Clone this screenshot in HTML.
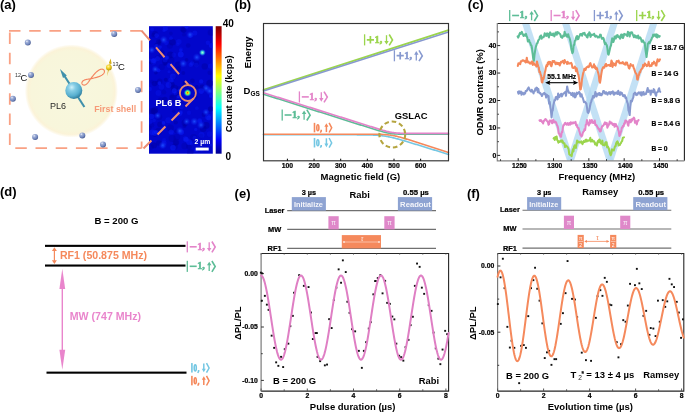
<!DOCTYPE html>
<html><head><meta charset="utf-8"><style>
html,body{margin:0;padding:0;background:#fff;}
svg{display:block;will-change:transform;}
text{font-family:"Liberation Sans",sans-serif;}
</style></head><body>
<svg width="685" height="412" viewBox="0 0 685 412">
<rect width="685" height="412" fill="#fff"/>
<text x="0" y="8.5" font-size="13" font-weight="bold" fill="#000" text-anchor="start" >(a)</text>
<defs><radialGradient id="shell" cx="50%" cy="50%" r="50%"><stop offset="0" stop-color="#f8f7de"/><stop offset="0.86" stop-color="#f8f6db"/><stop offset="0.93" stop-color="#fbf3d8"/><stop offset="0.97" stop-color="#fdf9ec"/><stop offset="1" stop-color="#ffffff"/></radialGradient><radialGradient id="ball" cx="35%" cy="30%" r="70%"><stop offset="0" stop-color="#eef0fa"/><stop offset="0.3" stop-color="#9eaed6"/><stop offset="0.75" stop-color="#7086bd"/><stop offset="1" stop-color="#4d5f92"/></radialGradient><radialGradient id="big" cx="38%" cy="32%" r="70%"><stop offset="0" stop-color="#d0f1fa"/><stop offset="0.3" stop-color="#86cde5"/><stop offset="0.72" stop-color="#58afcf"/><stop offset="1" stop-color="#317d9d"/></radialGradient><radialGradient id="yb" cx="40%" cy="35%" r="65%"><stop offset="0" stop-color="#fff6a0"/><stop offset="0.5" stop-color="#f2d024"/><stop offset="1" stop-color="#b89a10"/></radialGradient><linearGradient id="jet" x1="0" y1="1" x2="0" y2="0"><stop offset="0" stop-color="#00008f"/><stop offset="0.11" stop-color="#0000ff"/><stop offset="0.36" stop-color="#00ffff"/><stop offset="0.61" stop-color="#ffff00"/><stop offset="0.86" stop-color="#ff0000"/><stop offset="1" stop-color="#800000"/></linearGradient><radialGradient id="spot" cx="50%" cy="50%" r="50%"><stop offset="0" stop-color="#1c50ff" stop-opacity="0.95"/><stop offset="1" stop-color="#0820f0" stop-opacity="0"/></radialGradient><radialGradient id="cspot" cx="50%" cy="50%" r="50%"><stop offset="0" stop-color="#b0ffd0"/><stop offset="0.4" stop-color="#40e0e0" stop-opacity="0.9"/><stop offset="1" stop-color="#1040f0" stop-opacity="0"/></radialGradient><radialGradient id="hspot" cx="50%" cy="50%" r="50%"><stop offset="0" stop-color="#e03000"/><stop offset="0.25" stop-color="#ffe000"/><stop offset="0.55" stop-color="#30e0a0"/><stop offset="1" stop-color="#1040f0" stop-opacity="0"/></radialGradient></defs>
<circle cx="71.4" cy="91" r="46.6" fill="url(#shell)"/>
<line x1="9" y1="30.9" x2="142.2" y2="30.9" stroke="#f9a184" stroke-width="1.8" stroke-dasharray="11.5 8.7"/>
<line x1="9.8" y1="32.6" x2="9.8" y2="145.2" stroke="#f9a184" stroke-width="1.8" stroke-dasharray="11.5 8.7"/>
<line x1="15.3" y1="148.1" x2="141.6" y2="148.1" stroke="#f9a184" stroke-width="1.8" stroke-dasharray="11.5 8.7"/>
<line x1="141.6" y1="40.4" x2="141.6" y2="148.2" stroke="#f9a184" stroke-width="1.8" stroke-dasharray="11.5 8.7"/>
<circle cx="27.8" cy="42.6" r="3.0" fill="url(#ball)"/>
<circle cx="114.2" cy="33.9" r="3.0" fill="url(#ball)"/>
<circle cx="31" cy="75" r="3.0" fill="url(#ball)"/>
<circle cx="12.9" cy="98.8" r="3.0" fill="url(#ball)"/>
<circle cx="138" cy="90" r="3.0" fill="url(#ball)"/>
<circle cx="35.1" cy="137" r="3.0" fill="url(#ball)"/>
<circle cx="82.3" cy="135.4" r="3.0" fill="url(#ball)"/>
<circle cx="103" cy="144.4" r="3.0" fill="url(#ball)"/>
<text x="15.1" y="77.4" font-size="5.4" font-weight="normal" fill="#333" text-anchor="start" >12</text>
<text x="20.6" y="81.4" font-size="9.4" font-weight="normal" fill="#111" text-anchor="start" >C</text>
<text x="112.5" y="66.4" font-size="5.4" font-weight="normal" fill="#333" text-anchor="start" >13</text>
<text x="118.1" y="70.4" font-size="9.5" font-weight="normal" fill="#111" text-anchor="start" >C</text>
<text x="49.9" y="108.7" font-size="9" font-weight="normal" fill="#2a2a2a" text-anchor="start" >PL6</text>
<text x="94.2" y="111.9" font-size="8.9" font-weight="bold" fill="#f69a78" text-anchor="start" >First shell</text>
<path d="M90.60,78.80 L91.47,78.61 L92.34,78.42 L93.19,78.22 L94.04,78.02 L94.87,77.81 L95.69,77.60 L96.48,77.38 L97.25,77.15 L97.99,76.90 L98.70,76.65 L99.38,76.39 L100.02,76.11 L100.62,75.82 L101.19,75.52 L101.71,75.21 L102.19,74.89 L102.62,74.56 L103.01,74.22 L103.35,73.87 L103.65,73.52 L103.90,73.17 L104.10,72.82 L104.26,72.46 L104.37,72.11 L104.43,71.77 L104.45,71.44 L104.43,71.12 L104.37,70.81 L104.26,70.52 L104.12,70.26 L103.94,70.01 L103.72,69.79 L103.48,69.60 L103.19,69.45 L102.89,69.32 L102.55,69.23 L102.19,69.18 L101.80,69.17 L101.39,69.20 L100.97,69.28 L100.52,69.40 L100.07,69.56 L99.59,69.76 L99.11,70.01 L98.61,70.31 L98.11,70.65 L97.59,71.03 L97.07,71.45 L96.55,71.91 L96.02,72.41 L95.49,72.94 L94.95,73.50 L94.41,74.10 L93.87,74.72 L93.32,75.36 L92.78,76.03 L92.24,76.71 L91.69,77.40 L91.15,78.10 L90.60,78.80 L90.29,79.28 L89.98,79.76 L89.67,80.23 L89.36,80.69 L89.05,81.14 L88.74,81.58 L88.42,82.00 L88.11,82.39 L87.80,82.77 L87.48,83.13 L87.17,83.45 L86.85,83.76 L86.54,84.03 L86.22,84.27 L85.91,84.48 L85.60,84.66 L85.30,84.81 L85.00,84.93 L84.71,85.01 L84.42,85.06 L84.14,85.08 L83.87,85.07 L83.61,85.04 L83.37,84.97 L83.13,84.88 L82.92,84.76 L82.72,84.62 L82.54,84.46 L82.37,84.28 L82.23,84.09 L82.12,83.88 L82.02,83.65 L81.96,83.42 L81.92,83.18 L81.91,82.93 L81.92,82.69 L81.97,82.44 L82.05,82.19 L82.15,81.94 L82.29,81.70 L82.46,81.46 L82.66,81.23 L82.90,81.01 L83.16,80.80 L83.46,80.59 L83.78,80.40 L84.13,80.23 L84.51,80.06 L84.92,79.90 L85.35,79.76 L85.81,79.63 L86.28,79.51 L86.78,79.39 L87.29,79.29 L87.82,79.20 L88.36,79.11 L88.91,79.03 L89.47,78.95 L90.03,78.87 L90.60,78.80" fill="none" stroke="#f4845f" stroke-width="1.15" stroke-linejoin="round" stroke-linecap="round" />
<path d="M107.1,76.2 L108.3,67.5 L109.8,63.5 L108.8,63.3 L110.6,58.6 L111.7,63.8 L110.6,63.7 L109.6,67.5 Z" fill="#d4ae1a"/>
<circle cx="108.9" cy="67.4" r="2.9" fill="url(#yb)"/>
<line x1="84.4" y1="107" x2="64.5" y2="76" stroke="#3f90ab" stroke-width="2.1"/>
<path d="M60,69.1 L66.8,75.4 L63.0,77.9 Z" fill="#3f90ab"/>
<circle cx="73.8" cy="90.4" r="8.5" fill="url(#big)"/>
<rect x="149" y="26.2" width="63.8" height="127.5" fill="#0206cc"/>
<clipPath id="imgclip"><rect x="149" y="26.2" width="63.8" height="127.5"/></clipPath>
<g clip-path="url(#imgclip)">
<circle cx="169.9" cy="45.8" r="3.0" fill="#0000a0" opacity="0.27"/>
<circle cx="183.3" cy="73.0" r="1.9" fill="#0000a0" opacity="0.40"/>
<circle cx="151.9" cy="81.6" r="1.9" fill="#0000a0" opacity="0.28"/>
<circle cx="176.2" cy="131.3" r="2.0" fill="#0000a0" opacity="0.32"/>
<circle cx="189.0" cy="146.6" r="2.8" fill="#0000a0" opacity="0.37"/>
<circle cx="211.0" cy="32.6" r="3.3" fill="#0000a0" opacity="0.34"/>
<circle cx="158.6" cy="41.6" r="2.4" fill="#0000a0" opacity="0.49"/>
<circle cx="160.9" cy="100.3" r="3.0" fill="#0000a0" opacity="0.36"/>
<circle cx="184.0" cy="34.6" r="1.9" fill="#0000a0" opacity="0.31"/>
<circle cx="192.4" cy="80.8" r="2.4" fill="#0000a0" opacity="0.43"/>
<circle cx="178.1" cy="64.6" r="3.2" fill="#0000a0" opacity="0.46"/>
<circle cx="164.9" cy="99.4" r="2.7" fill="#0000a0" opacity="0.51"/>
<circle cx="195.5" cy="63.1" r="3.6" fill="#0000a0" opacity="0.29"/>
<circle cx="175.8" cy="122.5" r="2.1" fill="#0000a0" opacity="0.40"/>
<circle cx="152.0" cy="111.2" r="3.2" fill="#0000a0" opacity="0.42"/>
<circle cx="204.7" cy="66.4" r="3.1" fill="#0000a0" opacity="0.43"/>
<circle cx="186.0" cy="84.4" r="3.3" fill="#0000a0" opacity="0.53"/>
<circle cx="179.4" cy="110.7" r="1.9" fill="#0000a0" opacity="0.46"/>
<circle cx="190.3" cy="152.3" r="3.3" fill="#0000a0" opacity="0.34"/>
<circle cx="173.8" cy="111.3" r="1.8" fill="#0000a0" opacity="0.39"/>
<circle cx="160.1" cy="41.5" r="1.9" fill="#0000a0" opacity="0.48"/>
<circle cx="157.6" cy="58.0" r="2.5" fill="#0000a0" opacity="0.51"/>
<circle cx="154.6" cy="83.5" r="2.8" fill="#0000a0" opacity="0.52"/>
<circle cx="201.1" cy="136.0" r="2.3" fill="#0000a0" opacity="0.37"/>
<circle cx="172.1" cy="138.6" r="3.5" fill="#0000a0" opacity="0.30"/>
<circle cx="160.6" cy="56.0" r="2.2" fill="#0000a0" opacity="0.40"/>
<circle cx="186.6" cy="59.9" r="1.8" fill="#0000a0" opacity="0.38"/>
<circle cx="172.8" cy="98.3" r="3.5" fill="#0000a0" opacity="0.46"/>
<circle cx="182.0" cy="104.8" r="3.0" fill="#0000a0" opacity="0.27"/>
<circle cx="206.2" cy="125.4" r="3.4" fill="#0000a0" opacity="0.49"/>
<circle cx="174.2" cy="77.2" r="2.0" fill="#0000a0" opacity="0.44"/>
<circle cx="153.4" cy="35.2" r="2.2" fill="#0000a0" opacity="0.30"/>
<circle cx="170.9" cy="33.4" r="1.8" fill="#0000a0" opacity="0.30"/>
<circle cx="155.9" cy="72.7" r="1.8" fill="#0000a0" opacity="0.51"/>
<circle cx="188.2" cy="45.5" r="2.3" fill="#0000a0" opacity="0.35"/>
<circle cx="172.4" cy="42.2" r="3.3" fill="#0000a0" opacity="0.55"/>
<circle cx="178.9" cy="87.9" r="2.0" fill="#0000a0" opacity="0.28"/>
<circle cx="171.1" cy="60.2" r="3.3" fill="#0000a0" opacity="0.30"/>
<circle cx="151.0" cy="147.0" r="2.8" fill="#0000a0" opacity="0.29"/>
<circle cx="183.7" cy="30.1" r="2.8" fill="#0000a0" opacity="0.54"/>
<circle cx="203.9" cy="114.8" r="2.3" fill="#0000a0" opacity="0.36"/>
<circle cx="160.0" cy="124.4" r="2.8" fill="#0000a0" opacity="0.48"/>
<circle cx="170.3" cy="54.9" r="3.3" fill="#0000a0" opacity="0.55"/>
<circle cx="203.2" cy="128.7" r="3.3" fill="#0000a0" opacity="0.47"/>
<circle cx="163.8" cy="92.2" r="2.4" fill="#0000a0" opacity="0.26"/>
<circle cx="151.3" cy="62.0" r="2.3" fill="#0000a0" opacity="0.46"/>
<circle cx="209.8" cy="83.3" r="3.5" fill="#0000a0" opacity="0.55"/>
<circle cx="209.7" cy="72.8" r="2.2" fill="#0000a0" opacity="0.32"/>
<circle cx="161.9" cy="52.6" r="2.9" fill="#0000a0" opacity="0.52"/>
<circle cx="202.4" cy="87.4" r="3.0" fill="#0000a0" opacity="0.49"/>
<circle cx="154.8" cy="110.3" r="3.4" fill="#0000a0" opacity="0.48"/>
<circle cx="196.8" cy="87.2" r="2.1" fill="#0000a0" opacity="0.49"/>
<circle cx="170.4" cy="128.0" r="3.5" fill="#0000a0" opacity="0.37"/>
<circle cx="174.8" cy="146.5" r="3.1" fill="#0000a0" opacity="0.30"/>
<circle cx="157.5" cy="45.8" r="3.4" fill="#0000a0" opacity="0.49"/>
<circle cx="158.7" cy="131.3" r="3.6" fill="#0000a0" opacity="0.45"/>
<circle cx="171.6" cy="96.1" r="2.0" fill="#0000a0" opacity="0.25"/>
<circle cx="210.7" cy="108.9" r="2.7" fill="#0000a0" opacity="0.53"/>
<circle cx="176.8" cy="137.0" r="3.3" fill="#0000a0" opacity="0.31"/>
<circle cx="165.4" cy="63.8" r="2.2" fill="#0000a0" opacity="0.43"/>
<circle cx="165.8" cy="79.7" r="2.0" fill="#0000a0" opacity="0.52"/>
<circle cx="171.8" cy="84.7" r="2.9" fill="#0000a0" opacity="0.52"/>
<circle cx="176.0" cy="142.8" r="2.7" fill="#0000a0" opacity="0.41"/>
<circle cx="182.5" cy="29.1" r="2.6" fill="#0000a0" opacity="0.30"/>
<circle cx="149.7" cy="127.8" r="2.1" fill="#0000a0" opacity="0.39"/>
<circle cx="195.2" cy="97.1" r="2.4" fill="#0000a0" opacity="0.41"/>
<circle cx="184.5" cy="125.9" r="2.0" fill="#0000a0" opacity="0.42"/>
<circle cx="165.2" cy="61.7" r="3.2" fill="#0000a0" opacity="0.40"/>
<circle cx="184.9" cy="122.8" r="3.4" fill="#0000a0" opacity="0.38"/>
<circle cx="188.1" cy="90.7" r="2.7" fill="#0000a0" opacity="0.46"/>
<circle cx="178.0" cy="94.2" r="2.7" fill="#0000a0" opacity="0.53"/>
<circle cx="193.6" cy="137.6" r="3.5" fill="#0000a0" opacity="0.33"/>
<circle cx="184.7" cy="146.0" r="3.3" fill="#0000a0" opacity="0.29"/>
<circle cx="157.2" cy="82.6" r="1.9" fill="#0000a0" opacity="0.32"/>
<circle cx="154.1" cy="111.4" r="3.2" fill="#0000a0" opacity="0.52"/>
<circle cx="159.2" cy="117.3" r="3.0" fill="#0000a0" opacity="0.29"/>
<circle cx="205.1" cy="149.1" r="2.2" fill="#0000a0" opacity="0.54"/>
<circle cx="174.6" cy="88.3" r="3.6" fill="#0000a0" opacity="0.50"/>
<circle cx="159.7" cy="81.3" r="2.7" fill="#0000a0" opacity="0.35"/>
<circle cx="161.8" cy="67.0" r="3.1" fill="#0000a0" opacity="0.26"/>
<circle cx="184.4" cy="82.4" r="1.8" fill="#0000a0" opacity="0.35"/>
<circle cx="188.8" cy="91.5" r="1.9" fill="#0000a0" opacity="0.55"/>
<circle cx="199.2" cy="149.6" r="2.0" fill="#0000a0" opacity="0.33"/>
<circle cx="152.0" cy="125.2" r="2.3" fill="#0000a0" opacity="0.29"/>
<circle cx="176.1" cy="142.0" r="3.3" fill="#0000a0" opacity="0.33"/>
<circle cx="158.9" cy="143.0" r="2.8" fill="#0000a0" opacity="0.46"/>
<circle cx="155.1" cy="34.0" r="3.0" fill="#0000a0" opacity="0.38"/>
<circle cx="154.1" cy="145.4" r="2.9" fill="#0000a0" opacity="0.49"/>
<circle cx="154.8" cy="135.0" r="1.9" fill="#0000a0" opacity="0.51"/>
<circle cx="178.1" cy="69.6" r="2.8" fill="#0000a0" opacity="0.53"/>
<circle cx="166.4" cy="43.0" r="2.3" fill="#0a1cf6" opacity="0.33"/>
<circle cx="156.4" cy="47.1" r="1.6" fill="#0a1cf6" opacity="0.32"/>
<circle cx="169.2" cy="65.3" r="2.6" fill="#0a1cf6" opacity="0.35"/>
<circle cx="181.0" cy="49.2" r="2.0" fill="#0a1cf6" opacity="0.26"/>
<circle cx="165.3" cy="28.6" r="2.6" fill="#0a1cf6" opacity="0.44"/>
<circle cx="161.4" cy="86.8" r="2.9" fill="#0a1cf6" opacity="0.29"/>
<circle cx="201.1" cy="81.4" r="2.2" fill="#0a1cf6" opacity="0.54"/>
<circle cx="174.3" cy="90.8" r="2.5" fill="#0a1cf6" opacity="0.59"/>
<circle cx="171.1" cy="132.0" r="2.6" fill="#0a1cf6" opacity="0.47"/>
<circle cx="175.0" cy="70.7" r="1.6" fill="#0a1cf6" opacity="0.30"/>
<circle cx="154.0" cy="120.4" r="1.9" fill="#0a1cf6" opacity="0.31"/>
<circle cx="154.8" cy="133.1" r="2.8" fill="#0a1cf6" opacity="0.48"/>
<circle cx="167.3" cy="57.3" r="1.9" fill="#0a1cf6" opacity="0.41"/>
<circle cx="159.4" cy="83.1" r="1.9" fill="#0a1cf6" opacity="0.59"/>
<circle cx="210.8" cy="95.9" r="1.9" fill="#0a1cf6" opacity="0.59"/>
<circle cx="169.0" cy="71.8" r="1.5" fill="#0a1cf6" opacity="0.38"/>
<circle cx="179.4" cy="90.3" r="1.8" fill="#0a1cf6" opacity="0.43"/>
<circle cx="149.8" cy="60.1" r="1.6" fill="#0a1cf6" opacity="0.39"/>
<circle cx="152.1" cy="29.5" r="2.0" fill="#0a1cf6" opacity="0.33"/>
<circle cx="186.4" cy="93.6" r="2.6" fill="#0a1cf6" opacity="0.48"/>
<circle cx="194.6" cy="137.9" r="2.1" fill="#0a1cf6" opacity="0.36"/>
<circle cx="211.5" cy="45.6" r="2.6" fill="#0a1cf6" opacity="0.48"/>
<circle cx="152.3" cy="132.4" r="2.8" fill="#0a1cf6" opacity="0.47"/>
<circle cx="195.7" cy="129.4" r="1.7" fill="#0a1cf6" opacity="0.43"/>
<circle cx="181.3" cy="132.3" r="2.7" fill="#0a1cf6" opacity="0.54"/>
<circle cx="186.3" cy="139.6" r="2.5" fill="#0a1cf6" opacity="0.49"/>
<circle cx="164.0" cy="30.6" r="1.7" fill="#0a1cf6" opacity="0.38"/>
<circle cx="156.1" cy="132.4" r="2.3" fill="#0a1cf6" opacity="0.47"/>
<circle cx="189.0" cy="112.8" r="2.2" fill="#0a1cf6" opacity="0.25"/>
<circle cx="199.8" cy="121.4" r="2.3" fill="#0a1cf6" opacity="0.44"/>
<circle cx="191.0" cy="35.1" r="2.6" fill="#0a1cf6" opacity="0.34"/>
<circle cx="154.2" cy="60.3" r="2.6" fill="#0a1cf6" opacity="0.32"/>
<circle cx="196.1" cy="150.1" r="2.2" fill="#0a1cf6" opacity="0.38"/>
<circle cx="179.7" cy="113.2" r="2.7" fill="#0a1cf6" opacity="0.47"/>
<circle cx="190.0" cy="36.5" r="1.7" fill="#0a1cf6" opacity="0.34"/>
<circle cx="196.3" cy="65.2" r="2.4" fill="#0a1cf6" opacity="0.25"/>
<circle cx="153.3" cy="60.7" r="2.5" fill="#0a1cf6" opacity="0.49"/>
<circle cx="192.1" cy="63.5" r="2.3" fill="#0a1cf6" opacity="0.41"/>
<circle cx="178.9" cy="41.7" r="2.8" fill="#0a1cf6" opacity="0.32"/>
<circle cx="211.1" cy="145.1" r="1.5" fill="#0a1cf6" opacity="0.41"/>
<circle cx="201.2" cy="149.2" r="2.2" fill="#0a1cf6" opacity="0.34"/>
<circle cx="162.7" cy="146.3" r="1.8" fill="#0a1cf6" opacity="0.45"/>
<circle cx="158.4" cy="93.0" r="2.9" fill="#0a1cf6" opacity="0.30"/>
<circle cx="201.2" cy="91.1" r="2.8" fill="#0a1cf6" opacity="0.50"/>
<circle cx="164.1" cy="140.3" r="2.2" fill="#0a1cf6" opacity="0.26"/>
<circle cx="149.7" cy="88.9" r="2.2" fill="#0a1cf6" opacity="0.36"/>
<circle cx="158.4" cy="70.2" r="2.0" fill="#0a1cf6" opacity="0.54"/>
<circle cx="149.6" cy="121.7" r="2.8" fill="#0a1cf6" opacity="0.29"/>
<circle cx="207.9" cy="116.9" r="2.9" fill="#0a1cf6" opacity="0.35"/>
<circle cx="172.9" cy="76.4" r="3.0" fill="#0a1cf6" opacity="0.46"/>
<circle cx="172.2" cy="80.8" r="1.9" fill="#0a1cf6" opacity="0.27"/>
<circle cx="155.9" cy="132.3" r="1.9" fill="#0a1cf6" opacity="0.58"/>
<circle cx="165.2" cy="60.3" r="2.3" fill="#0a1cf6" opacity="0.32"/>
<circle cx="173.0" cy="147.7" r="2.8" fill="#0a1cf6" opacity="0.53"/>
<circle cx="189.2" cy="142.2" r="2.9" fill="#0a1cf6" opacity="0.44"/>
<circle cx="194.8" cy="33.0" r="2.6" fill="#0a1cf6" opacity="0.41"/>
<circle cx="196.9" cy="108.2" r="1.9" fill="#0a1cf6" opacity="0.27"/>
<circle cx="207.9" cy="42.8" r="2.2" fill="#0a1cf6" opacity="0.37"/>
<circle cx="168.3" cy="120.2" r="3.0" fill="#0a1cf6" opacity="0.34"/>
<circle cx="190.8" cy="64.8" r="2.3" fill="#0a1cf6" opacity="0.39"/>
<circle cx="160.0" cy="47.1" r="1.8" fill="#0a1cf6" opacity="0.57"/>
<circle cx="180.8" cy="54.5" r="2.9" fill="#0a1cf6" opacity="0.60"/>
<circle cx="177.8" cy="44.4" r="1.8" fill="#0a1cf6" opacity="0.28"/>
<circle cx="171.0" cy="38.2" r="1.9" fill="#0a1cf6" opacity="0.34"/>
<circle cx="185.4" cy="138.9" r="2.6" fill="#0a1cf6" opacity="0.39"/>
<circle cx="175.6" cy="93.0" r="2.1" fill="#0a1cf6" opacity="0.37"/>
<circle cx="153.4" cy="61.8" r="3.0" fill="#0a1cf6" opacity="0.29"/>
<circle cx="181.2" cy="106.3" r="2.8" fill="#0a1cf6" opacity="0.33"/>
<circle cx="166.6" cy="58.1" r="2.1" fill="#0a1cf6" opacity="0.41"/>
<circle cx="209.6" cy="134.1" r="2.8" fill="#0a1cf6" opacity="0.26"/>
<circle cx="151.5" cy="116.5" r="2.8" fill="#0a1cf6" opacity="0.42"/>
<circle cx="186.5" cy="26.7" r="2.1" fill="#0a1cf6" opacity="0.57"/>
<circle cx="201.5" cy="134.9" r="3.0" fill="#0a1cf6" opacity="0.34"/>
<circle cx="156.4" cy="46.2" r="2.3" fill="#0a1cf6" opacity="0.49"/>
<circle cx="208.8" cy="118.0" r="2.5" fill="#0a1cf6" opacity="0.52"/>
<circle cx="178.3" cy="96.5" r="1.6" fill="#0a1cf6" opacity="0.52"/>
<circle cx="164.2" cy="143.1" r="2.5" fill="#0a1cf6" opacity="0.36"/>
<circle cx="157.6" cy="58.6" r="2.5" fill="#0a1cf6" opacity="0.49"/>
<circle cx="156.6" cy="35.6" r="2.3" fill="#0a1cf6" opacity="0.45"/>
<circle cx="173.9" cy="55.0" r="2.4" fill="#0a1cf6" opacity="0.25"/>
<circle cx="168.5" cy="85.0" r="2.9" fill="#0a1cf6" opacity="0.48"/>
<circle cx="205.2" cy="86.8" r="1.9" fill="#0a1cf6" opacity="0.34"/>
<circle cx="210.0" cy="115.8" r="2.0" fill="#0a1cf6" opacity="0.26"/>
<circle cx="180.9" cy="112.0" r="2.1" fill="#0a1cf6" opacity="0.34"/>
<circle cx="191.5" cy="143.7" r="1.8" fill="#0a1cf6" opacity="0.26"/>
<circle cx="170.8" cy="79.9" r="2.5" fill="#0a1cf6" opacity="0.32"/>
<circle cx="199.7" cy="120.2" r="2.3" fill="#0a1cf6" opacity="0.32"/>
<circle cx="210.6" cy="66.1" r="2.7" fill="#0a1cf6" opacity="0.33"/>
<circle cx="163.5" cy="122.9" r="1.9" fill="#0a1cf6" opacity="0.58"/>
<circle cx="180.7" cy="50.4" r="1.8" fill="#0a1cf6" opacity="0.40"/>
<circle cx="163.7" cy="39.8" r="4.2" fill="url(#spot)"/>
<circle cx="196.8" cy="57.3" r="4.2" fill="url(#spot)"/>
<circle cx="183.2" cy="63.6" r="4.2" fill="url(#spot)"/>
<circle cx="151.8" cy="50" r="3.7" fill="url(#spot)"/>
<circle cx="155.2" cy="69.2" r="3.7" fill="url(#spot)"/>
<circle cx="190" cy="34.7" r="3.7" fill="url(#spot)"/>
<circle cx="206.2" cy="88.3" r="4.2" fill="url(#spot)"/>
<circle cx="209.6" cy="91" r="4.2" fill="url(#spot)"/>
<circle cx="179.8" cy="130.9" r="4.2" fill="url(#spot)"/>
<circle cx="194.3" cy="121.5" r="4.2" fill="url(#spot)"/>
<circle cx="201" cy="125" r="4.2" fill="url(#spot)"/>
<circle cx="186.6" cy="121.5" r="3.7" fill="url(#spot)"/>
<circle cx="157.7" cy="115.6" r="3.7" fill="url(#spot)"/>
<circle cx="162.8" cy="145.3" r="4.2" fill="url(#spot)"/>
<circle cx="206" cy="112.2" r="3.7" fill="url(#spot)"/>
</g>
<circle cx="202.4" cy="52.6" r="3.6" fill="url(#cspot)"/>
<circle cx="187.6" cy="92.8" r="4.0" fill="url(#hspot)"/>
<line x1="141.5" y1="30.6" x2="188.5" y2="85" stroke="#ec8c73" stroke-width="2" stroke-dasharray="13 9.2"/>
<line x1="143.5" y1="148.5" x2="194.4" y2="97.6" stroke="#ec8c73" stroke-width="2" stroke-dasharray="11.2 8.6"/>
<circle cx="187.9" cy="93.0" r="8.0" fill="none" stroke="#e4896f" stroke-width="1.8"/>
<text x="155.4" y="106.2" font-size="9.2" font-weight="bold" fill="#fff" text-anchor="start" >PL6 B</text>
<text x="194.6" y="144.2" font-size="6.8" font-weight="bold" fill="#fff" text-anchor="start" >2 µm</text>
<rect x="195.7" y="147.6" width="13" height="2.9" fill="#fff"/>
<rect x="215.7" y="26.2" width="5.9" height="127.5" fill="url(#jet)"/>
<text x="222.7" y="26.7" font-size="10" font-weight="bold" fill="#000" text-anchor="start" >40</text>
<text x="225.5" y="160.3" font-size="10" font-weight="bold" fill="#000" text-anchor="start" >0</text>
<text x="0" y="0" font-size="9.4" font-weight="bold" fill="#000" text-anchor="middle" transform="translate(231.5,93.8) rotate(-90)">Count rate (kcps)</text>
<text x="234.6" y="8.6" font-size="13" font-weight="bold" fill="#000" text-anchor="start" >(b)</text>
<path d="M263.50,89.90 L448.50,30.10" fill="none" stroke="#9bd54c" stroke-width="1.8" stroke-linejoin="round" stroke-linecap="round" />
<path d="M263.50,91.00 L448.50,32.00" fill="none" stroke="#8799cf" stroke-width="1.4" stroke-linejoin="round" stroke-linecap="round" />
<path d="M263.50,134.80 L264.27,134.80 L265.05,134.80 L265.82,134.80 L266.60,134.80 L267.37,134.80 L268.14,134.80 L268.92,134.80 L269.69,134.80 L270.47,134.80 L271.24,134.80 L272.01,134.80 L272.79,134.80 L273.56,134.80 L274.34,134.80 L275.11,134.80 L275.88,134.80 L276.66,134.80 L277.43,134.80 L278.21,134.80 L278.98,134.80 L279.76,134.80 L280.53,134.80 L281.30,134.80 L282.08,134.80 L282.85,134.80 L283.63,134.80 L284.40,134.80 L285.17,134.80 L285.95,134.80 L286.72,134.80 L287.50,134.80 L288.27,134.80 L289.04,134.80 L289.82,134.80 L290.59,134.80 L291.37,134.80 L292.14,134.80 L292.91,134.80 L293.69,134.80 L294.46,134.80 L295.24,134.80 L296.01,134.80 L296.78,134.80 L297.56,134.80 L298.33,134.80 L299.11,134.80 L299.88,134.80 L300.65,134.80 L301.43,134.80 L302.20,134.80 L302.98,134.80 L303.75,134.80 L304.53,134.80 L305.30,134.80 L306.07,134.80 L306.85,134.80 L307.62,134.80 L308.40,134.80 L309.17,134.80 L309.94,134.80 L310.72,134.80 L311.49,134.80 L312.27,134.80 L313.04,134.80 L313.81,134.80 L314.59,134.80 L315.36,134.80 L316.14,134.80 L316.91,134.80 L317.68,134.80 L318.46,134.80 L319.23,134.80 L320.01,134.80 L320.78,134.80 L321.55,134.80 L322.33,134.80 L323.10,134.80 L323.88,134.80 L324.65,134.80 L325.42,134.80 L326.20,134.80 L326.97,134.80 L327.75,134.80 L328.52,134.80 L329.29,134.80 L330.07,134.80 L330.84,134.80 L331.62,134.80 L332.39,134.80 L333.17,134.80 L333.94,134.80 L334.71,134.80 L335.49,134.80 L336.26,134.80 L337.04,134.80 L337.81,134.80 L338.58,134.80 L339.36,134.80 L340.13,134.80 L340.91,134.80 L341.68,134.80 L342.45,134.80 L343.23,134.80 L344.00,134.80 L344.78,134.80 L345.55,134.80 L346.32,134.80 L347.10,134.81 L347.87,134.81 L348.65,134.81 L349.42,134.81 L350.19,134.81 L350.97,134.81 L351.74,134.81 L352.52,134.81 L353.29,134.81 L354.06,134.82 L354.84,134.82 L355.61,134.82 L356.39,134.82 L357.16,134.83 L357.94,134.83 L358.71,134.83 L359.48,134.84 L360.26,134.84 L361.03,134.85 L361.81,134.85 L362.58,134.86 L363.35,134.87 L364.13,134.88 L364.90,134.88 L365.68,134.90 L366.45,134.91 L367.22,134.92 L368.00,134.94 L368.77,134.95 L369.55,134.97 L370.32,134.99 L371.09,135.01 L371.87,135.04 L372.64,135.07 L373.42,135.10 L374.19,135.14 L374.96,135.17 L375.74,135.22 L376.51,135.26 L377.29,135.32 L378.06,135.37 L378.83,135.44 L379.61,135.51 L380.38,135.58 L381.16,135.66 L381.93,135.75 L382.71,135.84 L383.48,135.94 L384.25,136.05 L385.03,136.17 L385.80,136.29 L386.58,136.42 L387.35,136.55 L388.12,136.70 L388.90,136.85 L389.67,137.01 L390.45,137.17 L391.22,137.34 L391.99,137.51 L392.77,137.69 L393.54,137.88 L394.32,138.07 L395.09,138.27 L395.86,138.47 L396.64,138.67 L397.41,138.88 L398.19,139.09 L398.96,139.30 L399.73,139.52 L400.51,139.73 L401.28,139.96 L402.06,140.18 L402.83,140.40 L403.60,140.63 L404.38,140.86 L405.15,141.09 L405.93,141.32 L406.70,141.55 L407.47,141.78 L408.25,142.01 L409.02,142.25 L409.80,142.48 L410.57,142.72 L411.35,142.95 L412.12,143.19 L412.89,143.42 L413.67,143.66 L414.44,143.90 L415.22,144.14 L415.99,144.37 L416.76,144.61 L417.54,144.85 L418.31,145.09 L419.09,145.33 L419.86,145.57 L420.63,145.80 L421.41,146.04 L422.18,146.28 L422.96,146.52 L423.73,146.76 L424.50,147.00 L425.28,147.24 L426.05,147.48 L426.83,147.72 L427.60,147.96 L428.37,148.20 L429.15,148.44 L429.92,148.68 L430.70,148.92 L431.47,149.16 L432.24,149.40 L433.02,149.64 L433.79,149.88 L434.57,150.12 L435.34,150.36 L436.12,150.60 L436.89,150.84 L437.66,151.08 L438.44,151.32 L439.21,151.56 L439.99,151.80 L440.76,152.04 L441.53,152.28 L442.31,152.52 L443.08,152.76 L443.86,153.00 L444.63,153.24 L445.40,153.48 L446.18,153.72 L446.95,153.96 L447.73,154.20 L448.50,154.44" fill="none" stroke="#74c7e3" stroke-width="1.6" stroke-linejoin="round" stroke-linecap="round" />
<path d="M263.50,134.20 L264.27,134.20 L265.05,134.20 L265.82,134.20 L266.60,134.20 L267.37,134.20 L268.14,134.20 L268.92,134.20 L269.69,134.20 L270.47,134.20 L271.24,134.20 L272.01,134.20 L272.79,134.20 L273.56,134.20 L274.34,134.20 L275.11,134.20 L275.88,134.20 L276.66,134.20 L277.43,134.20 L278.21,134.20 L278.98,134.20 L279.76,134.20 L280.53,134.20 L281.30,134.20 L282.08,134.20 L282.85,134.20 L283.63,134.20 L284.40,134.20 L285.17,134.20 L285.95,134.20 L286.72,134.20 L287.50,134.20 L288.27,134.20 L289.04,134.20 L289.82,134.20 L290.59,134.20 L291.37,134.20 L292.14,134.20 L292.91,134.20 L293.69,134.20 L294.46,134.20 L295.24,134.20 L296.01,134.20 L296.78,134.20 L297.56,134.20 L298.33,134.20 L299.11,134.20 L299.88,134.20 L300.65,134.20 L301.43,134.20 L302.20,134.20 L302.98,134.20 L303.75,134.20 L304.53,134.20 L305.30,134.20 L306.07,134.20 L306.85,134.20 L307.62,134.20 L308.40,134.20 L309.17,134.20 L309.94,134.20 L310.72,134.20 L311.49,134.20 L312.27,134.20 L313.04,134.20 L313.81,134.20 L314.59,134.20 L315.36,134.20 L316.14,134.20 L316.91,134.20 L317.68,134.20 L318.46,134.20 L319.23,134.20 L320.01,134.20 L320.78,134.20 L321.55,134.20 L322.33,134.20 L323.10,134.20 L323.88,134.20 L324.65,134.20 L325.42,134.20 L326.20,134.20 L326.97,134.20 L327.75,134.20 L328.52,134.20 L329.29,134.20 L330.07,134.20 L330.84,134.20 L331.62,134.20 L332.39,134.20 L333.17,134.20 L333.94,134.20 L334.71,134.20 L335.49,134.20 L336.26,134.20 L337.04,134.20 L337.81,134.20 L338.58,134.20 L339.36,134.20 L340.13,134.20 L340.91,134.20 L341.68,134.20 L342.45,134.20 L343.23,134.20 L344.00,134.20 L344.78,134.20 L345.55,134.20 L346.32,134.20 L347.10,134.20 L347.87,134.20 L348.65,134.20 L349.42,134.20 L350.19,134.20 L350.97,134.20 L351.74,134.20 L352.52,134.20 L353.29,134.20 L354.06,134.20 L354.84,134.20 L355.61,134.20 L356.39,134.20 L357.16,134.20 L357.94,134.20 L358.71,134.20 L359.48,134.20 L360.26,134.20 L361.03,134.20 L361.81,134.20 L362.58,134.20 L363.35,134.21 L364.13,134.21 L364.90,134.21 L365.68,134.21 L366.45,134.21 L367.22,134.21 L368.00,134.21 L368.77,134.22 L369.55,134.22 L370.32,134.22 L371.09,134.23 L371.87,134.23 L372.64,134.24 L373.42,134.24 L374.19,134.25 L374.96,134.26 L375.74,134.27 L376.51,134.28 L377.29,134.29 L378.06,134.30 L378.83,134.32 L379.61,134.34 L380.38,134.36 L381.16,134.39 L381.93,134.42 L382.71,134.45 L383.48,134.49 L384.25,134.53 L385.03,134.58 L385.80,134.64 L386.58,134.70 L387.35,134.77 L388.12,134.85 L388.90,134.94 L389.67,135.03 L390.45,135.14 L391.22,135.26 L391.99,135.38 L392.77,135.51 L393.54,135.66 L394.32,135.81 L395.09,135.97 L395.86,136.14 L396.64,136.32 L397.41,136.50 L398.19,136.70 L398.96,136.90 L399.73,137.10 L400.51,137.31 L401.28,137.52 L402.06,137.74 L402.83,137.97 L403.60,138.19 L404.38,138.42 L405.15,138.65 L405.93,138.88 L406.70,139.12 L407.47,139.36 L408.25,139.60 L409.02,139.84 L409.80,140.08 L410.57,140.32 L411.35,140.56 L412.12,140.80 L412.89,141.05 L413.67,141.29 L414.44,141.54 L415.22,141.78 L415.99,142.03 L416.76,142.27 L417.54,142.52 L418.31,142.77 L419.09,143.01 L419.86,143.26 L420.63,143.51 L421.41,143.75 L422.18,144.00 L422.96,144.25 L423.73,144.50 L424.50,144.74 L425.28,144.99 L426.05,145.24 L426.83,145.49 L427.60,145.73 L428.37,145.98 L429.15,146.23 L429.92,146.48 L430.70,146.72 L431.47,146.97 L432.24,147.22 L433.02,147.47 L433.79,147.71 L434.57,147.96 L435.34,148.21 L436.12,148.46 L436.89,148.70 L437.66,148.95 L438.44,149.20 L439.21,149.45 L439.99,149.70 L440.76,149.94 L441.53,150.19 L442.31,150.44 L443.08,150.69 L443.86,150.93 L444.63,151.18 L445.40,151.43 L446.18,151.68 L446.95,151.92 L447.73,152.17 L448.50,152.42" fill="none" stroke="#f5885b" stroke-width="1.6" stroke-linejoin="round" stroke-linecap="round" />
<path d="M263.50,94.20 L264.27,94.45 L265.05,94.69 L265.82,94.94 L266.60,95.18 L267.37,95.43 L268.14,95.67 L268.92,95.92 L269.69,96.16 L270.47,96.41 L271.24,96.65 L272.01,96.90 L272.79,97.14 L273.56,97.39 L274.34,97.64 L275.11,97.88 L275.88,98.13 L276.66,98.37 L277.43,98.62 L278.21,98.86 L278.98,99.11 L279.76,99.35 L280.53,99.60 L281.30,99.84 L282.08,100.09 L282.85,100.33 L283.63,100.58 L284.40,100.83 L285.17,101.07 L285.95,101.32 L286.72,101.56 L287.50,101.81 L288.27,102.05 L289.04,102.30 L289.82,102.54 L290.59,102.79 L291.37,103.03 L292.14,103.28 L292.91,103.52 L293.69,103.77 L294.46,104.02 L295.24,104.26 L296.01,104.51 L296.78,104.75 L297.56,105.00 L298.33,105.24 L299.11,105.49 L299.88,105.73 L300.65,105.98 L301.43,106.22 L302.20,106.47 L302.98,106.71 L303.75,106.96 L304.53,107.20 L305.30,107.45 L306.07,107.70 L306.85,107.94 L307.62,108.19 L308.40,108.43 L309.17,108.68 L309.94,108.92 L310.72,109.17 L311.49,109.41 L312.27,109.66 L313.04,109.90 L313.81,110.15 L314.59,110.39 L315.36,110.64 L316.14,110.89 L316.91,111.13 L317.68,111.38 L318.46,111.62 L319.23,111.87 L320.01,112.11 L320.78,112.36 L321.55,112.60 L322.33,112.85 L323.10,113.09 L323.88,113.34 L324.65,113.58 L325.42,113.83 L326.20,114.08 L326.97,114.32 L327.75,114.57 L328.52,114.81 L329.29,115.06 L330.07,115.30 L330.84,115.55 L331.62,115.79 L332.39,116.04 L333.17,116.28 L333.94,116.53 L334.71,116.77 L335.49,117.02 L336.26,117.27 L337.04,117.51 L337.81,117.76 L338.58,118.00 L339.36,118.25 L340.13,118.49 L340.91,118.74 L341.68,118.98 L342.45,119.23 L343.23,119.47 L344.00,119.72 L344.78,119.96 L345.55,120.21 L346.32,120.46 L347.10,120.70 L347.87,120.95 L348.65,121.19 L349.42,121.44 L350.19,121.68 L350.97,121.93 L351.74,122.17 L352.52,122.42 L353.29,122.66 L354.06,122.91 L354.84,123.15 L355.61,123.40 L356.39,123.64 L357.16,123.89 L357.94,124.13 L358.71,124.38 L359.48,124.63 L360.26,124.87 L361.03,125.12 L361.81,125.36 L362.58,125.61 L363.35,125.85 L364.13,126.09 L364.90,126.34 L365.68,126.58 L366.45,126.83 L367.22,127.07 L368.00,127.32 L368.77,127.56 L369.55,127.80 L370.32,128.05 L371.09,128.29 L371.87,128.53 L372.64,128.77 L373.42,129.01 L374.19,129.25 L374.96,129.49 L375.74,129.73 L376.51,129.96 L377.29,130.19 L378.06,130.42 L378.83,130.65 L379.61,130.88 L380.38,131.10 L381.16,131.32 L381.93,131.53 L382.71,131.74 L383.48,131.95 L384.25,132.14 L385.03,132.33 L385.80,132.51 L386.58,132.68 L387.35,132.85 L388.12,133.00 L388.90,133.14 L389.67,133.28 L390.45,133.40 L391.22,133.51 L391.99,133.61 L392.77,133.70 L393.54,133.78 L394.32,133.85 L395.09,133.92 L395.86,133.97 L396.64,134.02 L397.41,134.06 L398.19,134.10 L398.96,134.13 L399.73,134.15 L400.51,134.18 L401.28,134.20 L402.06,134.21 L402.83,134.23 L403.60,134.24 L404.38,134.25 L405.15,134.26 L405.93,134.26 L406.70,134.27 L407.47,134.27 L408.25,134.28 L409.02,134.28 L409.80,134.28 L410.57,134.29 L411.35,134.29 L412.12,134.29 L412.89,134.29 L413.67,134.29 L414.44,134.29 L415.22,134.30 L415.99,134.30 L416.76,134.30 L417.54,134.30 L418.31,134.30 L419.09,134.30 L419.86,134.30 L420.63,134.30 L421.41,134.30 L422.18,134.30 L422.96,134.30 L423.73,134.30 L424.50,134.30 L425.28,134.30 L426.05,134.30 L426.83,134.30 L427.60,134.30 L428.37,134.30 L429.15,134.30 L429.92,134.30 L430.70,134.30 L431.47,134.30 L432.24,134.30 L433.02,134.30 L433.79,134.30 L434.57,134.30 L435.34,134.30 L436.12,134.30 L436.89,134.30 L437.66,134.30 L438.44,134.30 L439.21,134.30 L439.99,134.30 L440.76,134.30 L441.53,134.30 L442.31,134.30 L443.08,134.30 L443.86,134.30 L444.63,134.30 L445.40,134.30 L446.18,134.30 L446.95,134.30 L447.73,134.30 L448.50,134.30" fill="none" stroke="#5dbd97" stroke-width="1.6" stroke-linejoin="round" stroke-linecap="round" />
<path d="M263.50,92.80 L264.27,93.04 L265.05,93.29 L265.82,93.53 L266.60,93.78 L267.37,94.02 L268.14,94.26 L268.92,94.51 L269.69,94.75 L270.47,94.99 L271.24,95.24 L272.01,95.48 L272.79,95.73 L273.56,95.97 L274.34,96.21 L275.11,96.46 L275.88,96.70 L276.66,96.95 L277.43,97.19 L278.21,97.43 L278.98,97.68 L279.76,97.92 L280.53,98.16 L281.30,98.41 L282.08,98.65 L282.85,98.90 L283.63,99.14 L284.40,99.38 L285.17,99.63 L285.95,99.87 L286.72,100.11 L287.50,100.36 L288.27,100.60 L289.04,100.85 L289.82,101.09 L290.59,101.33 L291.37,101.58 L292.14,101.82 L292.91,102.07 L293.69,102.31 L294.46,102.55 L295.24,102.80 L296.01,103.04 L296.78,103.28 L297.56,103.53 L298.33,103.77 L299.11,104.02 L299.88,104.26 L300.65,104.50 L301.43,104.75 L302.20,104.99 L302.98,105.24 L303.75,105.48 L304.53,105.72 L305.30,105.97 L306.07,106.21 L306.85,106.45 L307.62,106.70 L308.40,106.94 L309.17,107.19 L309.94,107.43 L310.72,107.67 L311.49,107.92 L312.27,108.16 L313.04,108.41 L313.81,108.65 L314.59,108.89 L315.36,109.14 L316.14,109.38 L316.91,109.62 L317.68,109.87 L318.46,110.11 L319.23,110.36 L320.01,110.60 L320.78,110.84 L321.55,111.09 L322.33,111.33 L323.10,111.57 L323.88,111.82 L324.65,112.06 L325.42,112.31 L326.20,112.55 L326.97,112.79 L327.75,113.04 L328.52,113.28 L329.29,113.53 L330.07,113.77 L330.84,114.01 L331.62,114.26 L332.39,114.50 L333.17,114.74 L333.94,114.99 L334.71,115.23 L335.49,115.48 L336.26,115.72 L337.04,115.96 L337.81,116.21 L338.58,116.45 L339.36,116.70 L340.13,116.94 L340.91,117.18 L341.68,117.43 L342.45,117.67 L343.23,117.91 L344.00,118.16 L344.78,118.40 L345.55,118.65 L346.32,118.89 L347.10,119.13 L347.87,119.38 L348.65,119.62 L349.42,119.86 L350.19,120.11 L350.97,120.35 L351.74,120.60 L352.52,120.84 L353.29,121.08 L354.06,121.33 L354.84,121.57 L355.61,121.82 L356.39,122.06 L357.16,122.30 L357.94,122.55 L358.71,122.79 L359.48,123.03 L360.26,123.28 L361.03,123.52 L361.81,123.77 L362.58,124.01 L363.35,124.25 L364.13,124.50 L364.90,124.74 L365.68,124.98 L366.45,125.23 L367.22,125.47 L368.00,125.71 L368.77,125.96 L369.55,126.20 L370.32,126.44 L371.09,126.68 L371.87,126.93 L372.64,127.17 L373.42,127.41 L374.19,127.65 L374.96,127.89 L375.74,128.13 L376.51,128.37 L377.29,128.61 L378.06,128.85 L378.83,129.08 L379.61,129.32 L380.38,129.55 L381.16,129.78 L381.93,130.01 L382.71,130.23 L383.48,130.45 L384.25,130.67 L385.03,130.88 L385.80,131.09 L386.58,131.28 L387.35,131.48 L388.12,131.66 L388.90,131.84 L389.67,132.00 L390.45,132.16 L391.22,132.30 L391.99,132.44 L392.77,132.56 L393.54,132.67 L394.32,132.77 L395.09,132.86 L395.86,132.93 L396.64,133.00 L397.41,133.06 L398.19,133.11 L398.96,133.16 L399.73,133.20 L400.51,133.23 L401.28,133.26 L402.06,133.28 L402.83,133.30 L403.60,133.32 L404.38,133.33 L405.15,133.34 L405.93,133.35 L406.70,133.36 L407.47,133.37 L408.25,133.37 L409.02,133.38 L409.80,133.38 L410.57,133.38 L411.35,133.39 L412.12,133.39 L412.89,133.39 L413.67,133.39 L414.44,133.39 L415.22,133.39 L415.99,133.40 L416.76,133.40 L417.54,133.40 L418.31,133.40 L419.09,133.40 L419.86,133.40 L420.63,133.40 L421.41,133.40 L422.18,133.40 L422.96,133.40 L423.73,133.40 L424.50,133.40 L425.28,133.40 L426.05,133.40 L426.83,133.40 L427.60,133.40 L428.37,133.40 L429.15,133.40 L429.92,133.40 L430.70,133.40 L431.47,133.40 L432.24,133.40 L433.02,133.40 L433.79,133.40 L434.57,133.40 L435.34,133.40 L436.12,133.40 L436.89,133.40 L437.66,133.40 L438.44,133.40 L439.21,133.40 L439.99,133.40 L440.76,133.40 L441.53,133.40 L442.31,133.40 L443.08,133.40 L443.86,133.40 L444.63,133.40 L445.40,133.40 L446.18,133.40 L446.95,133.40 L447.73,133.40 L448.50,133.40" fill="none" stroke="#e384c9" stroke-width="1.7" stroke-linejoin="round" stroke-linecap="round" />
<rect x="263.5" y="23.5" width="185" height="137.3" fill="none" stroke="#333" stroke-width="1.15"/>
<line x1="287.40" y1="160.7" x2="287.40" y2="158.7" stroke="#000" stroke-width="1"/>
<text x="287.40" y="168.4" font-size="6.8" font-weight="bold" fill="#000" text-anchor="middle" stroke="#000" stroke-width="0.22" >100</text>
<line x1="314.05" y1="160.7" x2="314.05" y2="158.7" stroke="#000" stroke-width="1"/>
<text x="314.05" y="168.4" font-size="6.8" font-weight="bold" fill="#000" text-anchor="middle" stroke="#000" stroke-width="0.22" >200</text>
<line x1="340.70" y1="160.7" x2="340.70" y2="158.7" stroke="#000" stroke-width="1"/>
<text x="340.70" y="168.4" font-size="6.8" font-weight="bold" fill="#000" text-anchor="middle" stroke="#000" stroke-width="0.22" >300</text>
<line x1="367.35" y1="160.7" x2="367.35" y2="158.7" stroke="#000" stroke-width="1"/>
<text x="367.35" y="168.4" font-size="6.8" font-weight="bold" fill="#000" text-anchor="middle" stroke="#000" stroke-width="0.22" >400</text>
<line x1="394.00" y1="160.7" x2="394.00" y2="158.7" stroke="#000" stroke-width="1"/>
<text x="394.00" y="168.4" font-size="6.8" font-weight="bold" fill="#000" text-anchor="middle" stroke="#000" stroke-width="0.22" >500</text>
<line x1="420.65" y1="160.7" x2="420.65" y2="158.7" stroke="#000" stroke-width="1"/>
<text x="420.65" y="168.4" font-size="6.8" font-weight="bold" fill="#000" text-anchor="middle" stroke="#000" stroke-width="0.22" >600</text>
<text x="360.4" y="180.3" font-size="9.5" font-weight="bold" fill="#000" text-anchor="middle" >Magnetic field (G)</text>
<text x="0" y="0" font-size="9.4" font-weight="bold" fill="#000" text-anchor="middle" transform="translate(251.2,52.4) rotate(-90)">Energy</text>
<text x="243.5" y="94.3" font-size="9.5" font-weight="bold" fill="#000" text-anchor="start" >D<tspan font-size="6.5" dy="1.5">GS</tspan></text>
<ellipse cx="392.3" cy="134.5" rx="12.9" ry="13.0" fill="none" stroke="#b5a540" stroke-width="2.1" stroke-dasharray="4.6 2.9"/>
<text x="394.8" y="119.4" font-size="9.4" font-weight="bold" fill="#000" text-anchor="start" >GSLAC</text>
<rect x="363.95" y="34.30" width="1.3" height="11.1" fill="#9bd54c"/>
<path d="M366.80,39.80 H374.00 M370.40,36.10 V43.50" stroke="#9bd54c" stroke-width="1.7" fill="none"/>
<text x="374.50" y="42.70" font-size="10.3" font-weight="bold" fill="#9bd54c" stroke="#9bd54c" stroke-width="0.55" style="font-family:Liberation Serif,serif">1,</text>
<path d="M386.50,35.20 V42.60" stroke="#9bd54c" stroke-width="1.3" fill="none"/>
<path d="M386.50,44.60 L384.30,41.00 L388.70,41.00 Z" fill="#9bd54c"/>
<path d="M389.20,34.50 L392.50,40.00 L389.20,45.30" stroke="#9bd54c" stroke-width="1.6" fill="none"/>
<rect x="393.75" y="50.20" width="1.3" height="11.1" fill="#8799cf"/>
<path d="M396.60,55.70 H403.80 M400.20,52.00 V59.40" stroke="#8799cf" stroke-width="1.7" fill="none"/>
<text x="404.30" y="58.60" font-size="10.3" font-weight="bold" fill="#8799cf" stroke="#8799cf" stroke-width="0.55" style="font-family:Liberation Serif,serif">1,</text>
<path d="M416.30,60.50 V53.10" stroke="#8799cf" stroke-width="1.3" fill="none"/>
<path d="M416.30,51.10 L414.10,54.70 L418.50,54.70 Z" fill="#8799cf"/>
<path d="M419.00,50.40 L422.30,55.90 L419.00,61.20" stroke="#8799cf" stroke-width="1.6" fill="none"/>
<rect x="298.75" y="91.40" width="1.3" height="11.1" fill="#e384c9"/>
<path d="M301.80,96.90 H308.80" stroke="#e384c9" stroke-width="1.6" fill="none"/>
<text x="309.30" y="99.80" font-size="10.3" font-weight="bold" fill="#e384c9" stroke="#e384c9" stroke-width="0.55" style="font-family:Liberation Serif,serif">1,</text>
<path d="M321.30,92.30 V99.70" stroke="#e384c9" stroke-width="1.3" fill="none"/>
<path d="M321.30,101.70 L319.10,98.10 L323.50,98.10 Z" fill="#e384c9"/>
<path d="M324.00,91.60 L327.30,97.10 L324.00,102.40" stroke="#e384c9" stroke-width="1.6" fill="none"/>
<rect x="281.55" y="109.50" width="1.3" height="11.1" fill="#5dbd97"/>
<path d="M284.60,115.00 H291.60" stroke="#5dbd97" stroke-width="1.6" fill="none"/>
<text x="292.10" y="117.90" font-size="10.3" font-weight="bold" fill="#5dbd97" stroke="#5dbd97" stroke-width="0.55" style="font-family:Liberation Serif,serif">1,</text>
<path d="M304.10,119.80 V112.40" stroke="#5dbd97" stroke-width="1.3" fill="none"/>
<path d="M304.10,110.40 L301.90,114.00 L306.30,114.00 Z" fill="#5dbd97"/>
<path d="M306.80,109.70 L310.10,115.20 L306.80,120.50" stroke="#5dbd97" stroke-width="1.6" fill="none"/>
<rect x="313.70" y="122.85" width="1.6" height="9.5" fill="#f5885b"/>
<ellipse cx="317.85" cy="127.70" rx="1.05" ry="3.0" fill="none" stroke="#f5885b" stroke-width="1.6"/>
<path d="M321.20,129.80 L321.20,131.10 L320.30,132.60" stroke="#f5885b" stroke-width="1.6" fill="none"/>
<path d="M326.40,132.10 V125.20" stroke="#f5885b" stroke-width="1.5" fill="none"/>
<path d="M326.40,123.20 L324.40,126.80 L328.40,126.80 Z" fill="#f5885b"/>
<path d="M329.10,122.90 L331.70,127.80 L329.10,132.50" stroke="#f5885b" stroke-width="1.5" fill="none"/>
<rect x="313.70" y="137.95" width="1.6" height="9.5" fill="#74c7e3"/>
<ellipse cx="317.85" cy="142.80" rx="1.05" ry="3.0" fill="none" stroke="#74c7e3" stroke-width="1.6"/>
<path d="M321.20,144.90 L321.20,146.20 L320.30,147.70" stroke="#74c7e3" stroke-width="1.6" fill="none"/>
<path d="M326.40,138.30 V145.20" stroke="#74c7e3" stroke-width="1.5" fill="none"/>
<path d="M326.40,147.20 L324.40,143.60 L328.40,143.60 Z" fill="#74c7e3"/>
<path d="M329.10,138.00 L331.70,142.90 L329.10,147.60" stroke="#74c7e3" stroke-width="1.5" fill="none"/>
<text x="467.8" y="8.8" font-size="13" font-weight="bold" fill="#000" text-anchor="start" >(c)</text>
<path d="M522.1999999999999,24 L529.4,24 L574.1,160.5 L566.9,160.5 Z" fill="#b4daf3" fill-opacity="0.8"/>
<path d="M562.1999999999999,24 L569.4,24 L613.6,160.5 L606.4,160.5 Z" fill="#b4daf3" fill-opacity="0.8"/>
<path d="M610.4,24 L617.6,24 L574.1,160.5 L566.9,160.5 Z" fill="#b4daf3" fill-opacity="0.8"/>
<path d="M649.9,24 L657.1,24 L613.6,160.5 L606.4,160.5 Z" fill="#b4daf3" fill-opacity="0.8"/>
<path d="M517.60,36.31 L518.20,37.56 L518.81,36.16 L519.41,34.27 L520.01,32.87 L520.61,33.89 L521.22,32.89 L521.82,31.84 L522.42,33.81 L523.02,34.78 L523.63,35.97 L524.23,34.50 L524.83,35.26 L525.43,35.68 L526.04,33.93 L526.64,36.30 L527.24,37.42 L527.84,41.37 L528.45,40.47 L529.05,39.98 L529.65,42.37 L530.25,42.78 L530.86,45.00 L531.46,45.52 L532.06,48.49 L532.66,53.87 L533.27,59.19 L533.87,60.85 L534.47,55.07 L535.07,51.15 L535.68,47.38 L536.28,45.69 L536.88,43.48 L537.48,43.15 L538.09,40.88 L538.69,39.77 L539.29,39.62 L539.89,36.70 L540.50,36.07 L541.10,35.44 L541.70,38.68 L542.30,37.10 L542.91,37.32 L543.51,37.30 L544.11,35.88 L544.71,33.22 L545.32,35.58 L545.92,34.67 L546.52,35.85 L547.12,33.40 L547.73,33.44 L548.33,35.95 L548.93,37.44 L549.53,34.11 L550.14,32.38 L550.74,33.42 L551.34,35.08 L551.94,35.06 L552.55,35.25 L553.15,33.43 L553.75,34.86 L554.36,36.36 L554.96,34.82 L555.56,32.57 L556.16,32.45 L556.77,34.67 L557.37,32.09 L557.97,33.25 L558.57,32.52 L559.18,33.46 L559.78,33.80 L560.38,34.39 L560.98,36.93 L561.59,36.65 L562.19,37.93 L562.79,36.45 L563.39,35.29 L564.00,36.09 L564.60,31.84 L565.20,34.01 L565.80,35.57 L566.41,34.49 L567.01,36.74 L567.61,36.67 L568.21,34.22 L568.82,36.84 L569.42,37.68 L570.02,39.66 L570.62,42.43 L571.23,47.72 L571.83,50.99 L572.43,53.20 L573.03,51.82 L573.64,44.97 L574.24,44.95 L574.84,40.90 L575.44,40.66 L576.05,37.82 L576.65,36.30 L577.25,36.13 L577.85,39.24 L578.46,38.83 L579.06,36.55 L579.66,35.76 L580.26,33.98 L580.87,34.66 L581.47,34.13 L582.07,35.72 L582.67,33.38 L583.28,33.68 L583.88,33.05 L584.48,32.88 L585.08,34.89 L585.69,35.01 L586.29,35.73 L586.89,36.97 L587.49,37.53 L588.10,34.05 L588.70,35.14 L589.30,32.28 L589.91,33.36 L590.51,36.86 L591.11,35.47 L591.71,34.53 L592.32,34.87 L592.92,34.83 L593.52,34.85 L594.12,33.72 L594.73,35.91 L595.33,36.76 L595.93,35.58 L596.53,35.83 L597.14,36.52 L597.74,37.48 L598.34,37.09 L598.94,37.44 L599.55,36.30 L600.15,34.66 L600.75,34.85 L601.35,37.38 L601.96,38.81 L602.56,38.58 L603.16,37.74 L603.76,39.05 L604.37,42.26 L604.97,44.09 L605.57,42.88 L606.17,44.47 L606.78,44.96 L607.38,48.21 L607.98,53.97 L608.58,54.70 L609.19,52.35 L609.79,49.65 L610.39,46.81 L610.99,45.53 L611.60,41.62 L612.20,38.40 L612.80,38.87 L613.40,42.06 L614.01,39.99 L614.61,36.52 L615.21,36.71 L615.81,38.43 L616.42,35.52 L617.02,36.71 L617.62,35.12 L618.22,37.06 L618.83,37.25 L619.43,36.58 L620.03,38.72 L620.63,36.18 L621.24,34.46 L621.84,37.35 L622.44,34.72 L623.04,37.95 L623.65,36.23 L624.25,33.87 L624.85,34.22 L625.46,34.59 L626.06,34.87 L626.66,34.42 L627.26,36.09 L627.87,31.88 L628.47,32.40 L629.07,33.10 L629.67,36.55 L630.28,32.63 L630.88,33.14 L631.48,32.22 L632.08,32.49 L632.69,34.60 L633.29,35.34 L633.89,37.28 L634.49,35.26 L635.10,35.60 L635.70,37.17 L636.30,37.63 L636.90,36.10 L637.51,37.61 L638.11,35.44 L638.71,38.55 L639.31,37.83 L639.92,37.28 L640.52,37.84 L641.12,39.29 L641.72,41.73 L642.33,40.65 L642.93,40.39 L643.53,42.48 L644.13,42.44 L644.74,42.73 L645.34,48.89 L645.94,52.81 L646.54,57.08 L647.15,51.99 L647.75,43.78 L648.35,43.28 L648.95,42.19 L649.56,43.26 L650.16,41.76 L650.76,40.32 L651.36,39.71 L651.97,37.75 L652.57,37.22 L653.17,34.66 L653.77,36.02 L654.38,34.61 L654.98,34.34 L655.58,35.82 L656.18,36.80 L656.79,34.37 L657.39,37.57 L657.99,35.27 L658.59,36.19 L659.20,36.79 L659.80,35.97" fill="none" stroke="#5dbd97" stroke-width="2.05" stroke-linejoin="round" stroke-linecap="round" stroke-linejoin="miter"/>
<path d="M517.80,66.04 L518.40,63.34 L519.00,63.56 L519.60,63.32 L520.20,64.23 L520.80,61.37 L521.40,61.42 L522.00,60.96 L522.60,60.26 L523.20,60.27 L523.80,60.79 L524.40,61.40 L525.00,60.80 L525.60,62.50 L526.20,61.94 L526.80,57.75 L527.40,62.20 L528.00,62.11 L528.60,61.58 L529.20,62.86 L529.80,63.50 L530.40,63.60 L531.00,62.38 L531.60,63.39 L532.20,61.41 L532.80,64.95 L533.40,62.81 L534.00,63.45 L534.60,64.27 L535.20,65.17 L535.80,65.17 L536.40,66.54 L537.00,61.45 L537.60,64.40 L538.20,66.33 L538.80,67.57 L539.40,72.00 L540.00,71.68 L540.60,74.55 L541.20,75.57 L541.80,82.26 L542.40,82.37 L543.00,78.12 L543.60,79.01 L544.20,75.89 L544.80,72.58 L545.40,70.65 L546.00,66.81 L546.60,65.09 L547.20,66.13 L547.80,62.58 L548.40,64.19 L549.00,61.80 L549.60,63.25 L550.20,62.00 L550.80,65.58 L551.40,66.18 L552.00,64.10 L552.60,60.92 L553.20,60.95 L553.80,62.01 L554.40,61.09 L555.00,62.53 L555.60,64.28 L556.20,63.56 L556.80,62.60 L557.40,63.94 L558.00,62.98 L558.60,64.21 L559.20,63.06 L559.80,65.40 L560.40,63.71 L561.00,61.69 L561.60,62.43 L562.20,61.70 L562.80,60.89 L563.40,61.72 L564.00,63.47 L564.60,59.97 L565.20,61.44 L565.80,62.03 L566.40,62.37 L567.00,64.01 L567.60,61.68 L568.20,63.54 L568.80,63.18 L569.40,63.57 L570.00,63.35 L570.60,63.16 L571.20,62.87 L571.80,64.26 L572.40,67.65 L573.00,67.94 L573.60,67.98 L574.20,67.81 L574.80,66.46 L575.40,67.80 L576.00,71.14 L576.60,68.33 L577.20,70.84 L577.80,73.34 L578.40,74.80 L579.00,78.19 L579.60,83.48 L580.20,89.56 L580.80,89.12 L581.40,85.20 L582.00,79.25 L582.60,76.17 L583.20,73.06 L583.80,71.19 L584.40,68.72 L585.00,68.87 L585.60,69.85 L586.20,67.72 L586.80,67.11 L587.40,67.25 L588.00,66.32 L588.60,67.17 L589.20,66.53 L589.80,64.06 L590.40,63.04 L591.00,65.21 L591.60,66.21 L592.20,67.50 L592.80,66.99 L593.40,66.82 L594.00,64.28 L594.60,67.73 L595.20,66.31 L595.80,68.98 L596.40,67.59 L597.00,68.35 L597.60,70.96 L598.20,72.85 L598.80,75.48 L599.40,81.24 L600.00,82.73 L600.60,79.44 L601.20,74.73 L601.80,70.84 L602.40,68.89 L603.00,67.40 L603.60,67.03 L604.20,67.74 L604.80,66.44 L605.40,64.65 L606.00,63.84 L606.60,66.14 L607.20,65.50 L607.80,65.19 L608.40,65.02 L609.00,65.33 L609.60,64.74 L610.20,65.95 L610.80,65.96 L611.40,60.49 L612.00,61.75 L612.60,66.95 L613.20,63.22 L613.80,63.43 L614.40,64.94 L615.00,64.07 L615.60,65.62 L616.20,62.51 L616.80,60.96 L617.40,61.77 L618.00,61.35 L618.60,60.64 L619.20,62.74 L619.80,63.35 L620.40,63.27 L621.00,62.63 L621.60,63.31 L622.20,63.10 L622.80,62.10 L623.40,63.48 L624.00,63.98 L624.60,63.83 L625.20,64.70 L625.80,62.51 L626.40,62.89 L627.00,62.57 L627.60,65.25 L628.20,65.44 L628.80,68.03 L629.40,68.63 L630.00,66.19 L630.60,64.06 L631.20,65.55 L631.80,65.41 L632.40,65.84 L633.00,65.11 L633.60,67.71 L634.20,69.01 L634.80,70.82 L635.40,72.71 L636.00,73.50 L636.60,74.24 L637.20,79.41 L637.80,79.61 L638.40,76.18 L639.00,74.92 L639.60,71.96 L640.20,72.33 L640.80,70.10 L641.40,69.36 L642.00,68.42 L642.60,68.14 L643.20,64.73 L643.80,66.34 L644.40,65.54 L645.00,63.41 L645.60,64.60 L646.20,64.71 L646.80,66.09 L647.40,65.89 L648.00,65.19 L648.60,61.82 L649.20,65.01 L649.80,66.28 L650.40,65.83 L651.00,65.10 L651.60,65.84 L652.20,63.08 L652.80,64.01 L653.40,63.45 L654.00,61.63 L654.60,62.74 L655.20,63.25 L655.80,65.51 L656.40,65.49 L657.00,61.69 L657.60,59.24 L658.20,60.81 L658.80,61.39 L659.40,60.59 L660.00,59.41" fill="none" stroke="#f5885b" stroke-width="2.05" stroke-linejoin="round" stroke-linecap="round" stroke-linejoin="miter"/>
<path d="M517.90,91.87 L518.50,93.82 L519.10,91.27 L519.70,93.12 L520.30,92.02 L520.90,91.48 L521.51,94.71 L522.11,93.51 L522.71,92.59 L523.31,93.39 L523.91,94.44 L524.51,93.10 L525.11,93.44 L525.71,91.09 L526.31,90.91 L526.91,90.72 L527.51,89.18 L528.11,88.14 L528.72,87.44 L529.32,89.35 L529.92,90.43 L530.52,90.75 L531.12,91.56 L531.72,89.70 L532.32,90.83 L532.92,91.93 L533.52,93.34 L534.12,91.48 L534.72,91.30 L535.32,88.63 L535.93,89.78 L536.53,87.65 L537.13,87.89 L537.73,92.14 L538.33,88.97 L538.93,92.31 L539.53,93.29 L540.13,92.82 L540.73,93.92 L541.33,94.69 L541.93,96.03 L542.53,94.78 L543.14,93.72 L543.74,93.37 L544.34,92.79 L544.94,94.30 L545.54,94.16 L546.14,97.48 L546.74,94.84 L547.34,95.34 L547.94,96.51 L548.54,96.14 L549.14,103.59 L549.74,101.94 L550.35,106.76 L550.95,111.21 L551.55,117.42 L552.15,111.51 L552.75,110.32 L553.35,105.22 L553.95,102.74 L554.55,100.03 L555.15,100.27 L555.75,97.08 L556.35,96.82 L556.95,97.09 L557.56,99.38 L558.16,93.43 L558.76,96.64 L559.36,97.16 L559.96,94.98 L560.56,95.06 L561.16,93.76 L561.76,96.45 L562.36,95.41 L562.96,94.14 L563.56,93.44 L564.16,93.10 L564.77,92.94 L565.37,91.70 L565.97,95.82 L566.57,91.43 L567.17,86.49 L567.77,89.66 L568.37,91.21 L568.97,92.83 L569.57,92.72 L570.17,92.77 L570.77,93.59 L571.38,95.06 L571.98,93.53 L572.58,92.92 L573.18,96.41 L573.78,95.92 L574.38,93.27 L574.98,97.38 L575.58,96.99 L576.18,94.67 L576.78,92.66 L577.38,94.14 L577.98,93.17 L578.59,92.46 L579.19,91.87 L579.79,93.03 L580.39,96.43 L580.99,95.86 L581.59,94.20 L582.19,97.10 L582.79,97.93 L583.39,100.02 L583.99,102.13 L584.59,101.55 L585.19,102.03 L585.80,103.33 L586.40,103.35 L587.00,107.60 L587.60,112.10 L588.20,112.89 L588.80,111.78 L589.40,109.53 L590.00,106.02 L590.60,103.15 L591.20,101.60 L591.80,99.53 L592.40,98.68 L593.01,96.01 L593.61,97.44 L594.21,97.37 L594.81,95.13 L595.41,91.92 L596.01,93.82 L596.61,96.40 L597.21,94.55 L597.81,93.89 L598.41,93.30 L599.01,94.87 L599.61,93.02 L600.22,95.09 L600.82,93.96 L601.42,95.31 L602.02,94.48 L602.62,93.58 L603.22,91.06 L603.82,91.04 L604.42,91.68 L605.02,93.46 L605.62,93.65 L606.22,92.19 L606.82,93.23 L607.43,94.66 L608.03,93.52 L608.63,92.47 L609.23,92.01 L609.83,93.72 L610.43,94.13 L611.03,91.95 L611.63,92.98 L612.23,92.11 L612.83,91.24 L613.43,94.04 L614.04,94.78 L614.64,92.66 L615.24,92.93 L615.84,93.77 L616.44,92.38 L617.04,92.56 L617.64,93.97 L618.24,90.76 L618.84,92.64 L619.44,94.33 L620.04,94.88 L620.64,92.27 L621.25,93.78 L621.85,92.77 L622.45,94.77 L623.05,96.04 L623.65,96.30 L624.25,95.15 L624.85,95.24 L625.45,98.10 L626.05,97.28 L626.65,99.89 L627.25,102.23 L627.85,103.55 L628.46,110.43 L629.06,111.75 L629.66,115.06 L630.26,107.10 L630.86,100.69 L631.46,101.73 L632.06,101.08 L632.66,98.75 L633.26,97.60 L633.86,93.69 L634.46,93.52 L635.06,92.54 L635.67,93.16 L636.27,95.10 L636.87,94.58 L637.47,94.71 L638.07,92.94 L638.67,92.39 L639.27,92.92 L639.87,92.47 L640.47,94.70 L641.07,92.29 L641.67,95.52 L642.27,92.44 L642.88,94.16 L643.48,92.02 L644.08,94.85 L644.68,93.78 L645.28,93.65 L645.88,94.12 L646.48,92.10 L647.08,90.41 L647.68,87.95 L648.28,91.97 L648.88,90.85 L649.48,90.45 L650.09,91.15 L650.69,94.76 L651.29,90.53 L651.89,91.61 L652.49,91.09 L653.09,92.33 L653.69,89.16 L654.29,89.84 L654.89,92.18 L655.49,94.51 L656.09,95.72 L656.69,92.35 L657.30,92.14 L657.90,91.76 L658.50,89.51 L659.10,88.28 L659.70,91.22 L660.30,91.85" fill="none" stroke="#8799cf" stroke-width="2.05" stroke-linejoin="round" stroke-linecap="round" stroke-linejoin="miter"/>
<path d="M539.50,120.30 L540.10,120.98 L540.70,119.97 L541.30,120.68 L541.90,121.91 L542.50,121.78 L543.10,123.44 L543.70,120.67 L544.30,120.72 L544.91,119.62 L545.51,118.99 L546.11,119.60 L546.71,120.54 L547.31,121.35 L547.91,121.94 L548.51,124.85 L549.11,124.33 L549.71,120.49 L550.31,121.33 L550.91,120.61 L551.51,120.52 L552.11,123.31 L552.71,122.58 L553.31,119.82 L553.91,122.01 L554.52,122.45 L555.12,121.66 L555.72,122.00 L556.32,123.05 L556.92,125.01 L557.52,126.10 L558.12,128.32 L558.72,133.34 L559.32,133.67 L559.92,135.42 L560.52,136.66 L561.12,136.68 L561.72,132.05 L562.32,132.00 L562.92,127.35 L563.52,125.01 L564.12,124.94 L564.73,123.42 L565.33,122.79 L565.93,123.87 L566.53,124.66 L567.13,124.03 L567.73,123.05 L568.33,124.89 L568.93,124.36 L569.53,123.12 L570.13,124.65 L570.73,122.27 L571.33,122.70 L571.93,123.69 L572.53,123.25 L573.13,122.28 L573.73,123.29 L574.34,122.61 L574.94,122.37 L575.54,121.84 L576.14,125.31 L576.74,124.63 L577.34,127.25 L577.94,127.95 L578.54,128.05 L579.14,130.44 L579.74,132.37 L580.34,134.86 L580.94,135.18 L581.54,136.45 L582.14,135.72 L582.74,133.09 L583.34,131.74 L583.94,131.29 L584.55,129.07 L585.15,129.94 L585.75,124.92 L586.35,124.08 L586.95,120.09 L587.55,122.91 L588.15,123.14 L588.75,125.53 L589.35,123.61 L589.95,120.14 L590.55,123.30 L591.15,120.99 L591.75,119.96 L592.35,121.12 L592.95,122.96 L593.55,122.29 L594.16,123.11 L594.76,120.62 L595.36,124.95 L595.96,124.72 L596.56,125.24 L597.16,126.66 L597.76,127.40 L598.36,128.73 L598.96,128.84 L599.56,130.75 L600.16,131.51 L600.76,131.14 L601.36,128.30 L601.96,126.74 L602.56,126.01 L603.16,125.74 L603.76,124.85 L604.37,123.56 L604.97,122.39 L605.57,124.12 L606.17,123.66 L606.77,122.96 L607.37,127.69 L607.97,126.17 L608.57,125.35 L609.17,123.89 L609.77,121.44 L610.37,123.44 L610.97,122.66 L611.57,122.53 L612.17,124.00 L612.77,124.82 L613.37,124.20 L613.98,123.72 L614.58,126.77 L615.18,126.28 L615.78,123.97 L616.38,125.85 L616.98,126.42 L617.58,127.22 L618.18,129.56 L618.78,131.36 L619.38,135.98 L619.98,135.03 L620.58,132.65 L621.18,131.43 L621.78,127.60 L622.38,127.61 L622.98,125.69 L623.58,126.31 L624.19,123.36 L624.79,123.58 L625.39,120.52 L625.99,120.58 L626.59,121.17 L627.19,122.07 L627.79,124.63 L628.39,125.64 L628.99,121.36 L629.59,120.03 L630.19,122.29 L630.79,122.18 L631.39,119.40 L631.99,120.73 L632.59,118.97 L633.19,118.46 L633.80,117.58 L634.40,118.61 L635.00,122.82 L635.60,122.14 L636.20,121.05 L636.80,124.39 L637.40,121.62 L638.00,120.69 L638.60,120.05" fill="none" stroke="#e384c9" stroke-width="2.05" stroke-linejoin="round" stroke-linecap="round" stroke-linejoin="miter"/>
<path d="M553.60,138.42 L554.20,137.74 L554.80,139.90 L555.41,137.03 L556.01,138.56 L556.61,136.52 L557.21,140.11 L557.81,140.76 L558.41,142.72 L559.02,141.29 L559.62,141.88 L560.22,141.37 L560.82,140.63 L561.42,141.59 L562.02,140.33 L562.63,141.10 L563.23,143.10 L563.83,143.46 L564.43,143.27 L565.03,146.98 L565.63,146.31 L566.24,145.51 L566.84,146.61 L567.44,146.85 L568.04,147.89 L568.64,149.34 L569.24,154.22 L569.85,154.69 L570.45,155.23 L571.05,155.43 L571.65,156.18 L572.25,152.50 L572.85,149.35 L573.46,151.40 L574.06,146.67 L574.66,145.43 L575.26,145.89 L575.86,148.05 L576.46,144.53 L577.07,140.57 L577.67,142.59 L578.27,141.84 L578.87,141.51 L579.47,142.37 L580.08,142.37 L580.68,142.37 L581.28,141.31 L581.88,143.03 L582.48,144.11 L583.08,142.61 L583.69,141.15 L584.29,141.98 L584.89,142.01 L585.49,139.94 L586.09,139.66 L586.69,141.54 L587.30,140.91 L587.90,140.26 L588.50,140.66 L589.10,140.52 L589.70,140.48 L590.30,137.86 L590.91,141.52 L591.51,141.26 L592.11,139.69 L592.71,141.43 L593.31,141.40 L593.91,141.02 L594.52,142.25 L595.12,144.52 L595.72,143.39 L596.32,144.26 L596.92,145.51 L597.52,141.90 L598.13,140.83 L598.73,142.11 L599.33,139.48 L599.93,140.19 L600.53,142.75 L601.14,143.80 L601.74,143.83 L602.34,140.64 L602.94,144.94 L603.54,144.84 L604.14,145.29 L604.75,145.38 L605.35,142.72 L605.95,142.08 L606.55,142.43 L607.15,147.28 L607.75,146.54 L608.36,147.62 L608.96,148.96 L609.56,151.68 L610.16,153.89 L610.76,155.25 L611.36,153.63 L611.97,149.29 L612.57,150.38 L613.17,150.08 L613.77,150.52 L614.37,148.41 L614.97,146.24 L615.58,146.18 L616.18,143.19 L616.78,142.12 L617.38,141.40 L617.98,142.58 L618.58,145.42 L619.19,144.89 L619.79,144.99 L620.39,143.69 L620.99,142.97 L621.59,141.53 L622.19,140.94 L622.80,137.66 L623.40,137.60 L624.00,137.39" fill="none" stroke="#9bd54c" stroke-width="2.05" stroke-linejoin="round" stroke-linecap="round" stroke-linejoin="miter"/>
<path d="M497.3,23.5 L684.4,23.5 L684.4,160.8" fill="none" stroke="#222" stroke-width="1.1"/>
<path d="M497.3,23.0 L497.3,160.8 L684.4,160.8" fill="none" stroke="#858585" stroke-width="1.2"/>
<line x1="497.3" y1="155.40" x2="500.2" y2="155.40" stroke="#222" stroke-width="1"/>
<text x="496.2" y="157.80" font-size="6.8" font-weight="bold" fill="#000" text-anchor="end" stroke="#000" stroke-width="0.22" >0</text>
<line x1="497.3" y1="127.95" x2="500.2" y2="127.95" stroke="#222" stroke-width="1"/>
<text x="496.2" y="130.35" font-size="6.8" font-weight="bold" fill="#000" text-anchor="end" stroke="#000" stroke-width="0.22" >10</text>
<line x1="497.3" y1="100.50" x2="500.2" y2="100.50" stroke="#222" stroke-width="1"/>
<text x="496.2" y="102.90" font-size="6.8" font-weight="bold" fill="#000" text-anchor="end" stroke="#000" stroke-width="0.22" >20</text>
<line x1="497.3" y1="73.05" x2="500.2" y2="73.05" stroke="#222" stroke-width="1"/>
<text x="496.2" y="75.45" font-size="6.8" font-weight="bold" fill="#000" text-anchor="end" stroke="#000" stroke-width="0.22" >30</text>
<line x1="497.3" y1="45.60" x2="500.2" y2="45.60" stroke="#222" stroke-width="1"/>
<text x="496.2" y="48.00" font-size="6.8" font-weight="bold" fill="#000" text-anchor="end" stroke="#000" stroke-width="0.22" >40</text>
<line x1="497.3" y1="141.68" x2="499" y2="141.68" stroke="#333" stroke-width="0.9"/>
<line x1="497.3" y1="114.22" x2="499" y2="114.22" stroke="#333" stroke-width="0.9"/>
<line x1="497.3" y1="86.78" x2="499" y2="86.78" stroke="#333" stroke-width="0.9"/>
<line x1="497.3" y1="59.33" x2="499" y2="59.33" stroke="#333" stroke-width="0.9"/>
<line x1="497.3" y1="31.88" x2="499" y2="31.88" stroke="#333" stroke-width="0.9"/>
<line x1="500.54" y1="160.8" x2="500.54" y2="159.30" stroke="#222" stroke-width="1"/>
<line x1="518.20" y1="160.8" x2="518.20" y2="158.20" stroke="#222" stroke-width="1"/>
<text x="519.40" y="167.9" font-size="6.7" font-weight="bold" fill="#000" text-anchor="middle" stroke="#000" stroke-width="0.22" >1250</text>
<line x1="535.86" y1="160.8" x2="535.86" y2="159.30" stroke="#222" stroke-width="1"/>
<line x1="553.53" y1="160.8" x2="553.53" y2="158.20" stroke="#222" stroke-width="1"/>
<text x="554.73" y="167.9" font-size="6.7" font-weight="bold" fill="#000" text-anchor="middle" stroke="#000" stroke-width="0.22" >1300</text>
<line x1="571.19" y1="160.8" x2="571.19" y2="159.30" stroke="#222" stroke-width="1"/>
<line x1="588.85" y1="160.8" x2="588.85" y2="158.20" stroke="#222" stroke-width="1"/>
<text x="590.05" y="167.9" font-size="6.7" font-weight="bold" fill="#000" text-anchor="middle" stroke="#000" stroke-width="0.22" >1350</text>
<line x1="606.51" y1="160.8" x2="606.51" y2="159.30" stroke="#222" stroke-width="1"/>
<line x1="624.18" y1="160.8" x2="624.18" y2="158.20" stroke="#222" stroke-width="1"/>
<text x="625.38" y="167.9" font-size="6.7" font-weight="bold" fill="#000" text-anchor="middle" stroke="#000" stroke-width="0.22" >1400</text>
<line x1="641.84" y1="160.8" x2="641.84" y2="159.30" stroke="#222" stroke-width="1"/>
<line x1="659.50" y1="160.8" x2="659.50" y2="158.20" stroke="#222" stroke-width="1"/>
<text x="660.70" y="167.9" font-size="6.7" font-weight="bold" fill="#000" text-anchor="middle" stroke="#000" stroke-width="0.22" >1450</text>
<line x1="677.16" y1="160.8" x2="677.16" y2="159.30" stroke="#222" stroke-width="1"/>
<text x="596.8" y="179.8" font-size="9.5" font-weight="bold" fill="#000" text-anchor="middle" >Frequency (MHz)</text>
<text x="0" y="0" font-size="9.5" font-weight="bold" fill="#000" text-anchor="middle" transform="translate(483.4,92.3) rotate(-90)">ODMR contrast (%)</text>
<rect x="509.05" y="10.00" width="1.3" height="11.1" fill="#5dbd97"/>
<path d="M512.10,15.50 H519.10" stroke="#5dbd97" stroke-width="1.6" fill="none"/>
<text x="519.60" y="18.40" font-size="10.3" font-weight="bold" fill="#5dbd97" stroke="#5dbd97" stroke-width="0.55" style="font-family:Liberation Serif,serif">1,</text>
<path d="M531.60,20.30 V12.90" stroke="#5dbd97" stroke-width="1.3" fill="none"/>
<path d="M531.60,10.90 L529.40,14.50 L533.80,14.50 Z" fill="#5dbd97"/>
<path d="M534.30,10.20 L537.60,15.70 L534.30,21.00" stroke="#5dbd97" stroke-width="1.6" fill="none"/>
<rect x="550.55" y="10.00" width="1.3" height="11.1" fill="#e384c9"/>
<path d="M553.60,15.50 H560.60" stroke="#e384c9" stroke-width="1.6" fill="none"/>
<text x="561.10" y="18.40" font-size="10.3" font-weight="bold" fill="#e384c9" stroke="#e384c9" stroke-width="0.55" style="font-family:Liberation Serif,serif">1,</text>
<path d="M573.10,10.90 V18.30" stroke="#e384c9" stroke-width="1.3" fill="none"/>
<path d="M573.10,20.30 L570.90,16.70 L575.30,16.70 Z" fill="#e384c9"/>
<path d="M575.80,10.20 L579.10,15.70 L575.80,21.00" stroke="#e384c9" stroke-width="1.6" fill="none"/>
<rect x="593.75" y="10.00" width="1.3" height="11.1" fill="#8799cf"/>
<path d="M596.60,15.50 H603.80 M600.20,11.80 V19.20" stroke="#8799cf" stroke-width="1.7" fill="none"/>
<text x="604.30" y="18.40" font-size="10.3" font-weight="bold" fill="#8799cf" stroke="#8799cf" stroke-width="0.55" style="font-family:Liberation Serif,serif">1,</text>
<path d="M616.30,20.30 V12.90" stroke="#8799cf" stroke-width="1.3" fill="none"/>
<path d="M616.30,10.90 L614.10,14.50 L618.50,14.50 Z" fill="#8799cf"/>
<path d="M619.00,10.20 L622.30,15.70 L619.00,21.00" stroke="#8799cf" stroke-width="1.6" fill="none"/>
<rect x="636.05" y="10.00" width="1.3" height="11.1" fill="#9bd54c"/>
<path d="M638.90,15.50 H646.10 M642.50,11.80 V19.20" stroke="#9bd54c" stroke-width="1.7" fill="none"/>
<text x="646.60" y="18.40" font-size="10.3" font-weight="bold" fill="#9bd54c" stroke="#9bd54c" stroke-width="0.55" style="font-family:Liberation Serif,serif">1,</text>
<path d="M658.60,10.90 V18.30" stroke="#9bd54c" stroke-width="1.3" fill="none"/>
<path d="M658.60,20.30 L656.40,16.70 L660.80,16.70 Z" fill="#9bd54c"/>
<path d="M661.30,10.20 L664.60,15.70 L661.30,21.00" stroke="#9bd54c" stroke-width="1.6" fill="none"/>
<text x="651.4" y="49.6" font-size="6.7" font-weight="bold" fill="#000" text-anchor="start" stroke="#000" stroke-width="0.22" >B = 18.7 G</text>
<text x="651.4" y="75.9" font-size="6.7" font-weight="bold" fill="#000" text-anchor="start" stroke="#000" stroke-width="0.22" >B = 14 G</text>
<text x="651.4" y="103.0" font-size="6.7" font-weight="bold" fill="#000" text-anchor="start" stroke="#000" stroke-width="0.22" >B = 9.8 G</text>
<text x="651.4" y="125.7" font-size="6.7" font-weight="bold" fill="#000" text-anchor="start" stroke="#000" stroke-width="0.22" >B = 5.4 G</text>
<text x="651.4" y="150.5" font-size="6.7" font-weight="bold" fill="#000" text-anchor="start" stroke="#000" stroke-width="0.22" >B = 0</text>
<line x1="548" y1="82.7" x2="575.5" y2="82.7" stroke="#000" stroke-width="1.1"/>
<path d="M545.2,82.7 L550.4,80.3 L549.4,82.7 L550.4,85.1 Z" fill="#000"/><path d="M578.2,82.7 L573,80.3 L574,82.7 L573,85.1 Z" fill="#000"/>
<text x="547.2" y="79.3" font-size="6.8" font-weight="bold" fill="#000" text-anchor="start" stroke="#000" stroke-width="0.22" >55.1 MHz</text>
<text x="0" y="195.8" font-size="13" font-weight="bold" fill="#000" text-anchor="start" >(d)</text>
<text x="94.5" y="223.7" font-size="9.6" font-weight="bold" fill="#000" text-anchor="start" >B = 200 G</text>
<rect x="45" y="244.8" width="140.5" height="2.1" fill="#000"/>
<rect x="45" y="264.5" width="140.5" height="2.1" fill="#000"/>
<rect x="46.5" y="371.6" width="140" height="2.1" fill="#000"/>
<line x1="54.4" y1="249" x2="54.4" y2="262" stroke="#f5895c" stroke-width="1.2"/>
<path d="M54.4,247.3 L51.9,251 L56.9,251 Z" fill="#f5895c"/><path d="M54.4,264 L51.9,260.3 L56.9,260.3 Z" fill="#f5895c"/>
<text x="59.9" y="258.9" font-size="10.6" font-weight="bold" fill="#f5895c" text-anchor="start" >RF1 (50.875 MHz)</text>
<line x1="62.3" y1="285" x2="62.3" y2="352" stroke="#e985cc" stroke-width="1.4"/>
<path d="M62.3,268.7 L59.4,289 L65.2,289 Z" fill="#e985cc"/><path d="M62.3,369.8 L59.4,349.8 L65.2,349.8 Z" fill="#e985cc"/>
<text x="69.8" y="319.7" font-size="10.6" font-weight="bold" fill="#e985cc" text-anchor="start" >MW (747 MHz)</text>
<rect x="186.65" y="241.30" width="1.3" height="11.1" fill="#e384c9"/>
<path d="M189.70,246.80 H196.70" stroke="#e384c9" stroke-width="1.6" fill="none"/>
<text x="197.20" y="249.70" font-size="10.3" font-weight="bold" fill="#e384c9" stroke="#e384c9" stroke-width="0.55" style="font-family:Liberation Serif,serif">1,</text>
<path d="M209.20,242.20 V249.60" stroke="#e384c9" stroke-width="1.3" fill="none"/>
<path d="M209.20,251.60 L207.00,248.00 L211.40,248.00 Z" fill="#e384c9"/>
<path d="M211.90,241.50 L215.20,247.00 L211.90,252.30" stroke="#e384c9" stroke-width="1.6" fill="none"/>
<rect x="186.65" y="260.80" width="1.3" height="11.1" fill="#5dbd97"/>
<path d="M189.70,266.30 H196.70" stroke="#5dbd97" stroke-width="1.6" fill="none"/>
<text x="197.20" y="269.20" font-size="10.3" font-weight="bold" fill="#5dbd97" stroke="#5dbd97" stroke-width="0.55" style="font-family:Liberation Serif,serif">1,</text>
<path d="M209.20,271.10 V263.70" stroke="#5dbd97" stroke-width="1.3" fill="none"/>
<path d="M209.20,261.70 L207.00,265.30 L211.40,265.30 Z" fill="#5dbd97"/>
<path d="M211.90,261.00 L215.20,266.50 L211.90,271.80" stroke="#5dbd97" stroke-width="1.6" fill="none"/>
<rect x="191.10" y="363.05" width="1.6" height="9.5" fill="#74c7e3"/>
<ellipse cx="195.25" cy="367.90" rx="1.05" ry="3.0" fill="none" stroke="#74c7e3" stroke-width="1.6"/>
<path d="M198.60,370.00 L198.60,371.30 L197.70,372.80" stroke="#74c7e3" stroke-width="1.6" fill="none"/>
<path d="M203.80,363.40 V370.30" stroke="#74c7e3" stroke-width="1.5" fill="none"/>
<path d="M203.80,372.30 L201.80,368.70 L205.80,368.70 Z" fill="#74c7e3"/>
<path d="M206.50,363.10 L209.10,368.00 L206.50,372.70" stroke="#74c7e3" stroke-width="1.5" fill="none"/>
<rect x="191.10" y="375.85" width="1.6" height="9.5" fill="#f5885b"/>
<ellipse cx="195.25" cy="380.70" rx="1.05" ry="3.0" fill="none" stroke="#f5885b" stroke-width="1.6"/>
<path d="M198.60,382.80 L198.60,384.10 L197.70,385.60" stroke="#f5885b" stroke-width="1.6" fill="none"/>
<path d="M203.80,385.10 V378.20" stroke="#f5885b" stroke-width="1.5" fill="none"/>
<path d="M203.80,376.20 L201.80,379.80 L205.80,379.80 Z" fill="#f5885b"/>
<path d="M206.50,375.90 L209.10,380.80 L206.50,385.50" stroke="#f5885b" stroke-width="1.5" fill="none"/>
<line x1="287.2" y1="210.6" x2="436" y2="210.6" stroke="#707070" stroke-width="1.1"/>
<text x="274.60" y="212.7" font-size="7.4" font-weight="bold" fill="#000" text-anchor="middle" stroke="#000" stroke-width="0.22" >Laser</text>
<line x1="287.2" y1="229.4" x2="436" y2="229.4" stroke="#707070" stroke-width="1.1"/>
<text x="274.60" y="231.7" font-size="7.4" font-weight="bold" fill="#000" text-anchor="middle" stroke="#000" stroke-width="0.22" >MW</text>
<line x1="287.2" y1="248.4" x2="436" y2="248.4" stroke="#707070" stroke-width="1.1"/>
<text x="274.60" y="250.9" font-size="7.4" font-weight="bold" fill="#000" text-anchor="middle" stroke="#000" stroke-width="0.22" >RF1</text>
<rect x="291.8" y="197.1" width="34.1" height="13.50" fill="#8ea3d2"/>
<text x="308.45" y="206.6" font-size="7.35" font-weight="bold" fill="#f4f5fa" text-anchor="middle" >Initialize</text>
<rect x="397.9" y="197.1" width="34.2" height="13.50" fill="#8ea3d2"/>
<text x="415.40" y="206.8" font-size="7.65" font-weight="bold" fill="#f4f5fa" text-anchor="middle" >Readout</text>
<text x="308.95" y="195.2" font-size="7.3" font-weight="bold" fill="#000" text-anchor="middle" stroke="#000" stroke-width="0.22" >3 µs</text>
<text x="415.95" y="194.5" font-size="7.7" font-weight="bold" fill="#000" text-anchor="middle" stroke="#000" stroke-width="0.22" >0.55 µs</text>
<text x="349.50" y="197.8" font-size="9.4" font-weight="bold" fill="#000" text-anchor="start" >Rabi</text>
<rect x="328.4" y="216.2" width="10.3" height="13.20" fill="#df88c9"/>
<text x="333.54999999999995" y="225.3" font-size="6.5" font-weight="normal" fill="#f7f0f7" text-anchor="middle" >π</text>
<rect x="384.3" y="216.2" width="10.3" height="13.20" fill="#df88c9"/>
<text x="389.45" y="225.3" font-size="6.5" font-weight="normal" fill="#f7f0f7" text-anchor="middle" >π</text>
<rect x="341.8" y="235.1" width="39.2" height="13.30" fill="#f5895c"/>
<line x1="343" y1="242" x2="380" y2="242" stroke="#fde3d8" stroke-width="0.6"/>
<path d="M342.6,242 L344.6,241 L344.6,243 Z M380.4,242 L378.4,241 L378.4,243 Z" fill="#fff"/>
<text x="362.1" y="241" font-size="7.5" font-style="italic" fill="#fde8df" text-anchor="middle" style="font-family:Liberation Serif,serif">τ</text>
<line x1="522.5" y1="210.2" x2="671.3" y2="210.2" stroke="#707070" stroke-width="1.1"/>
<text x="509.90" y="211.9" font-size="7.4" font-weight="bold" fill="#000" text-anchor="middle" stroke="#000" stroke-width="0.22" >Laser</text>
<line x1="522.5" y1="229.0" x2="671.3" y2="229.0" stroke="#707070" stroke-width="1.1"/>
<text x="509.90" y="231.2" font-size="7.4" font-weight="bold" fill="#000" text-anchor="middle" stroke="#000" stroke-width="0.22" >MW</text>
<line x1="522.5" y1="248.1" x2="671.3" y2="248.1" stroke="#707070" stroke-width="1.1"/>
<text x="509.90" y="250.5" font-size="7.4" font-weight="bold" fill="#000" text-anchor="middle" stroke="#000" stroke-width="0.22" >RF1</text>
<rect x="527.1" y="197.1" width="34.1" height="13.10" fill="#8ea3d2"/>
<text x="543.75" y="206.6" font-size="7.35" font-weight="bold" fill="#f4f5fa" text-anchor="middle" >Initialize</text>
<rect x="633.2" y="197.1" width="34.2" height="13.10" fill="#8ea3d2"/>
<text x="650.70" y="206.8" font-size="7.65" font-weight="bold" fill="#f4f5fa" text-anchor="middle" >Readout</text>
<text x="544.25" y="195.2" font-size="7.3" font-weight="bold" fill="#000" text-anchor="middle" stroke="#000" stroke-width="0.22" >3 µs</text>
<text x="651.25" y="194.5" font-size="7.7" font-weight="bold" fill="#000" text-anchor="middle" stroke="#000" stroke-width="0.22" >0.55 µs</text>
<text x="582.30" y="195.4" font-size="9.4" font-weight="bold" fill="#000" text-anchor="start" >Ramsey</text>
<rect x="563.9" y="215.7" width="10.1" height="13.30" fill="#df88c9"/>
<text x="568.9499999999999" y="225" font-size="6.5" font-weight="normal" fill="#f7f0f7" text-anchor="middle" >π</text>
<rect x="620.2" y="215.7" width="10.1" height="13.30" fill="#df88c9"/>
<text x="625.25" y="225" font-size="6.5" font-weight="normal" fill="#f7f0f7" text-anchor="middle" >π</text>
<rect x="577.6" y="234.9" width="6.2" height="13.20" fill="#f5895c"/>
<line x1="578.4" y1="241.4" x2="583.0" y2="241.4" stroke="#fff" stroke-width="0.5"/>
<text x="580.7" y="240.3" font-size="5" font-weight="normal" fill="#fff" text-anchor="middle" >π</text>
<text x="580.7" y="246.6" font-size="5" font-weight="normal" fill="#fff" text-anchor="middle" >2</text>
<rect x="610.1" y="234.9" width="6.2" height="13.20" fill="#f5895c"/>
<line x1="610.9" y1="241.4" x2="615.5" y2="241.4" stroke="#fff" stroke-width="0.5"/>
<text x="613.2" y="240.3" font-size="5" font-weight="normal" fill="#fff" text-anchor="middle" >π</text>
<text x="613.2" y="246.6" font-size="5" font-weight="normal" fill="#fff" text-anchor="middle" >2</text>
<line x1="585" y1="241.4" x2="608.5" y2="241.4" stroke="#f5895c" stroke-width="0.8"/>
<path d="M584.2,241.4 L587,240 L587,242.8 Z" fill="#f5895c"/><path d="M609.3,241.4 L606.5,240 L606.5,242.8 Z" fill="#f5895c"/>
<text x="597.4" y="240.3" font-size="8" font-style="italic" fill="#f5895c" text-anchor="middle" style="font-family:Liberation Serif,serif">τ</text>
<text x="234.6" y="197.9" font-size="13" font-weight="bold" fill="#000" text-anchor="start" >(e)</text>
<text x="466.9" y="197.9" font-size="13" font-weight="bold" fill="#000" text-anchor="start" >(f)</text>
<path d="M261.1,253.5 L448.6,253.5 L448.6,391.1 L261.1,391.1" fill="none" stroke="#262626" stroke-width="1.1"/>
<line x1="261.1" y1="253.0" x2="261.1" y2="391.6" stroke="#7a7a7a" stroke-width="1.2"/>
<line x1="261.10" y1="391.1" x2="261.10" y2="388.5" stroke="#555" stroke-width="1"/>
<line x1="261.10" y1="253.5" x2="261.10" y2="254.7" stroke="#555" stroke-width="0.8"/>
<text x="261.10" y="398.3" font-size="6.8" font-weight="bold" fill="#000" text-anchor="middle" stroke="#000" stroke-width="0.22" >0</text>
<line x1="284.20" y1="391.1" x2="284.20" y2="389.3" stroke="#555" stroke-width="1"/>
<line x1="284.20" y1="253.5" x2="284.20" y2="254.7" stroke="#555" stroke-width="0.8"/>
<line x1="307.30" y1="391.1" x2="307.30" y2="388.5" stroke="#555" stroke-width="1"/>
<line x1="307.30" y1="253.5" x2="307.30" y2="254.7" stroke="#555" stroke-width="0.8"/>
<text x="307.30" y="398.3" font-size="6.8" font-weight="bold" fill="#000" text-anchor="middle" stroke="#000" stroke-width="0.22" >2</text>
<line x1="330.40" y1="391.1" x2="330.40" y2="389.3" stroke="#555" stroke-width="1"/>
<line x1="330.40" y1="253.5" x2="330.40" y2="254.7" stroke="#555" stroke-width="0.8"/>
<line x1="353.50" y1="391.1" x2="353.50" y2="388.5" stroke="#555" stroke-width="1"/>
<line x1="353.50" y1="253.5" x2="353.50" y2="254.7" stroke="#555" stroke-width="0.8"/>
<text x="353.50" y="398.3" font-size="6.8" font-weight="bold" fill="#000" text-anchor="middle" stroke="#000" stroke-width="0.22" >4</text>
<line x1="376.60" y1="391.1" x2="376.60" y2="389.3" stroke="#555" stroke-width="1"/>
<line x1="376.60" y1="253.5" x2="376.60" y2="254.7" stroke="#555" stroke-width="0.8"/>
<line x1="399.70" y1="391.1" x2="399.70" y2="388.5" stroke="#555" stroke-width="1"/>
<line x1="399.70" y1="253.5" x2="399.70" y2="254.7" stroke="#555" stroke-width="0.8"/>
<text x="399.70" y="398.3" font-size="6.8" font-weight="bold" fill="#000" text-anchor="middle" stroke="#000" stroke-width="0.22" >6</text>
<line x1="422.80" y1="391.1" x2="422.80" y2="389.3" stroke="#555" stroke-width="1"/>
<line x1="422.80" y1="253.5" x2="422.80" y2="254.7" stroke="#555" stroke-width="0.8"/>
<line x1="445.90" y1="391.1" x2="445.90" y2="388.5" stroke="#555" stroke-width="1"/>
<line x1="445.90" y1="253.5" x2="445.90" y2="254.7" stroke="#555" stroke-width="0.8"/>
<text x="445.90" y="398.3" font-size="6.8" font-weight="bold" fill="#000" text-anchor="middle" stroke="#000" stroke-width="0.22" >8</text>
<line x1="261.1" y1="273.60" x2="263.90000000000003" y2="273.60" stroke="#333" stroke-width="1"/>
<text x="257.8" y="276.00" font-size="6.8" font-weight="bold" fill="#000" text-anchor="end" stroke="#000" stroke-width="0.22" >0.00</text>
<line x1="261.1" y1="300.30" x2="262.70000000000005" y2="300.30" stroke="#333" stroke-width="1"/>
<line x1="261.1" y1="327.00" x2="263.90000000000003" y2="327.00" stroke="#333" stroke-width="1"/>
<text x="257.8" y="329.40" font-size="6.8" font-weight="bold" fill="#000" text-anchor="end" stroke="#000" stroke-width="0.22" >-0.05</text>
<line x1="261.1" y1="353.70" x2="262.70000000000005" y2="353.70" stroke="#333" stroke-width="1"/>
<line x1="261.1" y1="380.40" x2="263.90000000000003" y2="380.40" stroke="#333" stroke-width="1"/>
<text x="257.8" y="382.80" font-size="6.8" font-weight="bold" fill="#000" text-anchor="end" stroke="#000" stroke-width="0.22" >-0.10</text>
<text x="352.7" y="409.8" font-size="9.5" font-weight="bold" fill="#000" text-anchor="middle" >Pulse duration (µs)</text>
<text x="0" y="0" font-size="9.5" font-weight="bold" fill="#000" text-anchor="middle" transform="translate(240.6,323.2) rotate(-90)">ΔPL/PL</text>
<rect x="261.2" y="272.4" width="1.9" height="1.9" fill="#111"/>
<rect x="259.9" y="271.7" width="1.9" height="1.9" fill="#111"/>
<rect x="263.9" y="294.9" width="1.9" height="1.9" fill="#111"/>
<rect x="260.8" y="299.9" width="1.9" height="1.9" fill="#111"/>
<rect x="265.9" y="303.7" width="1.9" height="1.9" fill="#111"/>
<rect x="267.6" y="308.9" width="1.9" height="1.9" fill="#111"/>
<rect x="291.9" y="314.9" width="1.9" height="1.9" fill="#111"/>
<rect x="293.1" y="291.8" width="1.9" height="1.9" fill="#111"/>
<rect x="298.2" y="274.2" width="1.9" height="1.9" fill="#111"/>
<rect x="302.9" y="284.9" width="1.9" height="1.9" fill="#111"/>
<rect x="307.6" y="286.1" width="1.9" height="1.9" fill="#111"/>
<rect x="310.1" y="311.6" width="1.9" height="1.9" fill="#111"/>
<rect x="270.7" y="334.7" width="1.9" height="1.9" fill="#111"/>
<rect x="273.2" y="346.9" width="1.9" height="1.9" fill="#111"/>
<rect x="275.2" y="361.4" width="1.9" height="1.9" fill="#111"/>
<rect x="277.4" y="364.9" width="1.9" height="1.9" fill="#111"/>
<rect x="280.1" y="355.9" width="1.9" height="1.9" fill="#111"/>
<rect x="282.2" y="366.1" width="1.9" height="1.9" fill="#111"/>
<rect x="283.8" y="348.2" width="1.9" height="1.9" fill="#111"/>
<rect x="287.4" y="342.7" width="1.9" height="1.9" fill="#111"/>
<rect x="289.4" y="325.2" width="1.9" height="1.9" fill="#111"/>
<rect x="311.9" y="338.1" width="1.9" height="1.9" fill="#111"/>
<rect x="314.6" y="332.1" width="1.9" height="1.9" fill="#111"/>
<rect x="316.6" y="355.9" width="1.9" height="1.9" fill="#111"/>
<rect x="341.9" y="259.4" width="1.9" height="1.9" fill="#111"/>
<rect x="337.7" y="268.4" width="1.9" height="1.9" fill="#111"/>
<rect x="344.8" y="271.1" width="1.9" height="1.9" fill="#111"/>
<rect x="340.1" y="281.8" width="1.9" height="1.9" fill="#111"/>
<rect x="335.4" y="286.7" width="1.9" height="1.9" fill="#111"/>
<rect x="332.9" y="299.1" width="1.9" height="1.9" fill="#111"/>
<rect x="346.4" y="300.8" width="1.9" height="1.9" fill="#111"/>
<rect x="348.6" y="311.9" width="1.9" height="1.9" fill="#111"/>
<rect x="328.2" y="318.2" width="1.9" height="1.9" fill="#111"/>
<rect x="372.4" y="293.4" width="1.9" height="1.9" fill="#111"/>
<rect x="374.2" y="280.1" width="1.9" height="1.9" fill="#111"/>
<rect x="369.8" y="321.2" width="1.9" height="1.9" fill="#111"/>
<rect x="330.7" y="327.1" width="1.9" height="1.9" fill="#111"/>
<rect x="319.2" y="360.2" width="1.9" height="1.9" fill="#111"/>
<rect x="323.9" y="364.4" width="1.9" height="1.9" fill="#111"/>
<rect x="326.1" y="363.6" width="1.9" height="1.9" fill="#111"/>
<rect x="315.9" y="332.1" width="1.9" height="1.9" fill="#111"/>
<rect x="351.1" y="328.2" width="1.9" height="1.9" fill="#111"/>
<rect x="354.2" y="330.4" width="1.9" height="1.9" fill="#111"/>
<rect x="357.9" y="349.9" width="1.9" height="1.9" fill="#111"/>
<rect x="362.9" y="349.9" width="1.9" height="1.9" fill="#111"/>
<rect x="360.9" y="366.9" width="1.9" height="1.9" fill="#111"/>
<rect x="365.2" y="341.2" width="1.9" height="1.9" fill="#111"/>
<rect x="367.8" y="327.6" width="1.9" height="1.9" fill="#111"/>
<rect x="374.8" y="280.1" width="1.9" height="1.9" fill="#111"/>
<rect x="376.8" y="277.1" width="1.9" height="1.9" fill="#111"/>
<rect x="379.4" y="274.2" width="1.9" height="1.9" fill="#111"/>
<rect x="384.2" y="279.9" width="1.9" height="1.9" fill="#111"/>
<rect x="381.6" y="292.4" width="1.9" height="1.9" fill="#111"/>
<rect x="386.2" y="301.9" width="1.9" height="1.9" fill="#111"/>
<rect x="388.9" y="302.9" width="1.9" height="1.9" fill="#111"/>
<rect x="391.4" y="315.6" width="1.9" height="1.9" fill="#111"/>
<rect x="393.4" y="318.4" width="1.9" height="1.9" fill="#111"/>
<rect x="411.9" y="315.8" width="1.9" height="1.9" fill="#111"/>
<rect x="413.9" y="284.9" width="1.9" height="1.9" fill="#111"/>
<rect x="416.1" y="262.6" width="1.9" height="1.9" fill="#111"/>
<rect x="418.7" y="265.9" width="1.9" height="1.9" fill="#111"/>
<rect x="420.9" y="286.7" width="1.9" height="1.9" fill="#111"/>
<rect x="423.2" y="292.9" width="1.9" height="1.9" fill="#111"/>
<rect x="427.8" y="304.2" width="1.9" height="1.9" fill="#111"/>
<rect x="430.6" y="309.9" width="1.9" height="1.9" fill="#111"/>
<rect x="395.4" y="342.7" width="1.9" height="1.9" fill="#111"/>
<rect x="398.2" y="354.8" width="1.9" height="1.9" fill="#111"/>
<rect x="400.2" y="356.2" width="1.9" height="1.9" fill="#111"/>
<rect x="402.4" y="359.7" width="1.9" height="1.9" fill="#111"/>
<rect x="404.6" y="346.2" width="1.9" height="1.9" fill="#111"/>
<rect x="407.6" y="338.9" width="1.9" height="1.9" fill="#111"/>
<rect x="409.7" y="324.2" width="1.9" height="1.9" fill="#111"/>
<rect x="432.6" y="331.6" width="1.9" height="1.9" fill="#111"/>
<rect x="434.8" y="347.4" width="1.9" height="1.9" fill="#111"/>
<rect x="437.4" y="357.7" width="1.9" height="1.9" fill="#111"/>
<rect x="439.4" y="363.2" width="1.9" height="1.9" fill="#111"/>
<rect x="441.6" y="348.6" width="1.9" height="1.9" fill="#111"/>
<rect x="444.2" y="329.9" width="1.9" height="1.9" fill="#111"/>
<rect x="446.2" y="333.2" width="1.9" height="1.9" fill="#111"/>
<path d="M261.10,275.51 L261.57,275.67 L262.04,276.06 L262.51,276.68 L262.98,277.52 L263.45,278.58 L263.92,279.85 L264.39,281.33 L264.86,283.00 L265.33,284.87 L265.80,286.91 L266.27,289.12 L266.74,291.48 L267.21,293.99 L267.68,296.62 L268.15,299.37 L268.62,302.22 L269.09,305.15 L269.56,308.15 L270.03,311.20 L270.50,314.29 L270.97,317.39 L271.44,320.50 L271.91,323.59 L272.38,326.64 L272.85,329.65 L273.32,332.59 L273.79,335.45 L274.26,338.22 L274.73,340.87 L275.20,343.39 L275.67,345.78 L276.14,348.01 L276.61,350.07 L277.08,351.96 L277.55,353.66 L278.02,355.16 L278.49,356.46 L278.96,357.55 L279.43,358.42 L279.90,359.07 L280.37,359.49 L280.84,359.69 L281.31,359.65 L281.78,359.39 L282.25,358.90 L282.72,358.18 L283.19,357.24 L283.66,356.09 L284.13,354.72 L284.60,353.16 L285.07,351.40 L285.54,349.46 L286.01,347.34 L286.48,345.06 L286.95,342.63 L287.42,340.07 L287.89,337.38 L288.36,334.59 L288.83,331.70 L289.30,328.74 L289.77,325.71 L290.24,322.64 L290.71,319.55 L291.18,316.44 L291.65,313.34 L292.12,310.26 L292.58,307.23 L293.05,304.25 L293.52,301.34 L293.99,298.52 L294.46,295.80 L294.93,293.21 L295.40,290.74 L295.87,288.42 L296.34,286.26 L296.81,284.28 L297.28,282.47 L297.75,280.85 L298.22,279.44 L298.69,278.23 L299.16,277.24 L299.63,276.47 L300.10,275.92 L300.57,275.59 L301.04,275.50 L301.51,275.64 L301.98,276.00 L302.45,276.59 L302.92,277.41 L303.39,278.44 L303.86,279.69 L304.33,281.14 L304.80,282.79 L305.27,284.63 L305.74,286.65 L306.21,288.84 L306.68,291.19 L307.15,293.68 L307.62,296.30 L308.09,299.03 L308.56,301.87 L309.03,304.79 L309.50,307.79 L309.97,310.83 L310.44,313.92 L310.91,317.02 L311.38,320.12 L311.85,323.22 L312.32,326.28 L312.79,329.29 L313.26,332.24 L313.73,335.11 L314.20,337.89 L314.67,340.56 L315.14,343.10 L315.61,345.50 L316.08,347.75 L316.55,349.83 L317.02,351.74 L317.49,353.46 L317.96,354.99 L318.43,356.32 L318.90,357.43 L319.37,358.33 L319.84,359.00 L320.31,359.45 L320.78,359.67 L321.25,359.67 L321.72,359.43 L322.19,358.97 L322.66,358.28 L323.13,357.37 L323.60,356.24 L324.07,354.90 L324.54,353.36 L325.01,351.62 L325.48,349.70 L325.95,347.60 L326.42,345.34 L326.89,342.93 L327.36,340.38 L327.83,337.71 L328.30,334.93 L328.77,332.05 L329.24,329.10 L329.71,326.08 L330.18,323.01 L330.65,319.92 L331.12,316.81 L331.59,313.71 L332.06,310.63 L332.53,307.59 L333.00,304.60 L333.47,301.68 L333.94,298.85 L334.41,296.12 L334.88,293.51 L335.35,291.03 L335.82,288.69 L336.29,286.52 L336.76,284.51 L337.23,282.68 L337.70,281.04 L338.17,279.60 L338.64,278.37 L339.11,277.35 L339.58,276.55 L340.05,275.97 L340.52,275.62 L340.99,275.50 L341.46,275.61 L341.93,275.95 L342.40,276.51 L342.87,277.30 L343.34,278.30 L343.81,279.53 L344.28,280.95 L344.75,282.58 L345.22,284.40 L345.69,286.40 L346.16,288.57 L346.63,290.90 L347.10,293.37 L347.57,295.98 L348.04,298.70 L348.51,301.53 L348.98,304.44 L349.45,307.42 L349.92,310.46 L350.39,313.54 L350.86,316.65 L351.33,319.75 L351.80,322.85 L352.27,325.91 L352.74,328.93 L353.21,331.89 L353.68,334.78 L354.15,337.56 L354.62,340.24 L355.08,342.80 L355.55,345.22 L356.02,347.48 L356.49,349.59 L356.96,351.52 L357.43,353.27 L357.90,354.82 L358.37,356.17 L358.84,357.31 L359.31,358.23 L359.78,358.93 L360.25,359.41 L360.72,359.66 L361.19,359.68 L361.66,359.47 L362.13,359.03 L362.60,358.37 L363.07,357.49 L363.54,356.38 L364.01,355.07 L364.48,353.55 L364.95,351.84 L365.42,349.94 L365.89,347.86 L366.36,345.62 L366.83,343.23 L367.30,340.70 L367.77,338.04 L368.24,335.27 L368.71,332.40 L369.18,329.46 L369.65,326.44 L370.12,323.38 L370.59,320.29 L371.06,317.19 L371.53,314.08 L372.00,311.00 L372.47,307.95 L372.94,304.96 L373.41,302.03 L373.88,299.19 L374.35,296.44 L374.82,293.82 L375.29,291.32 L375.76,288.97 L376.23,286.77 L376.70,284.74 L377.17,282.89 L377.64,281.22 L378.11,279.76 L378.58,278.50 L379.05,277.46 L379.52,276.63 L379.99,276.03 L380.46,275.65 L380.93,275.50 L381.40,275.58 L381.87,275.89 L382.34,276.43 L382.81,277.19 L383.28,278.17 L383.75,279.37 L384.22,280.77 L384.69,282.38 L385.16,284.17 L385.63,286.15 L386.10,288.30 L386.57,290.61 L387.04,293.07 L387.51,295.66 L387.98,298.37 L388.45,301.18 L388.92,304.09 L389.39,307.06 L389.86,310.10 L390.33,313.17 L390.80,316.27 L391.27,319.38 L391.74,322.48 L392.21,325.55 L392.68,328.57 L393.15,331.54 L393.62,334.43 L394.09,337.23 L394.56,339.93 L395.03,342.50 L395.50,344.93 L395.97,347.22 L396.44,349.35 L396.91,351.30 L397.38,353.07 L397.85,354.64 L398.32,356.02 L398.79,357.18 L399.26,358.13 L399.73,358.86 L400.20,359.37 L400.67,359.64 L401.14,359.69 L401.61,359.51 L402.08,359.10 L402.55,358.46 L403.02,357.60 L403.49,356.53 L403.96,355.24 L404.43,353.75 L404.90,352.06 L405.37,350.18 L405.84,348.12 L406.31,345.90 L406.78,343.53 L407.25,341.01 L407.72,338.36 L408.19,335.61 L408.66,332.75 L409.13,329.81 L409.60,326.81 L410.07,323.75 L410.54,320.67 L411.01,317.56 L411.48,314.46 L411.95,311.37 L412.42,308.31 L412.89,305.31 L413.36,302.38 L413.83,299.52 L414.30,296.77 L414.77,294.13 L415.24,291.61 L415.71,289.24 L416.18,287.02 L416.65,284.97 L417.12,283.10 L417.58,281.41 L418.05,279.93 L418.52,278.64 L418.99,277.57 L419.46,276.72 L419.93,276.09 L420.40,275.68 L420.87,275.51 L421.34,275.56 L421.81,275.84 L422.28,276.35 L422.75,277.09 L423.22,278.04 L423.69,279.21 L424.16,280.59 L424.63,282.17 L425.10,283.95 L425.57,285.91 L426.04,288.04 L426.51,290.33 L426.98,292.77 L427.45,295.34 L427.92,298.04 L428.39,300.84 L428.86,303.73 L429.33,306.70 L429.80,309.73 L430.27,312.80 L430.74,315.90 L431.21,319.01 L431.68,322.11 L432.15,325.18 L432.62,328.21 L433.09,331.19 L433.56,334.09 L434.03,336.90 L434.50,339.61 L434.97,342.20 L435.44,344.65 L435.91,346.96 L436.38,349.10 L436.85,351.07 L437.32,352.87 L437.79,354.47 L438.26,355.87 L438.73,357.06 L439.20,358.03 L439.67,358.79 L440.14,359.32 L440.61,359.62 L441.08,359.70 L441.55,359.54 L442.02,359.16 L442.49,358.55 L442.96,357.72 L443.43,356.67 L443.90,355.40 L444.37,353.94 L444.84,352.27 L445.31,350.41 L445.78,348.38 L446.25,346.18 L446.72,343.82 L447.19,341.32 L447.66,338.69 L448.13,335.94 L448.60,333.10" fill="none" stroke="#df7fc4" stroke-width="2.0" stroke-linejoin="round" stroke-linecap="round" />
<text x="273" y="384" font-size="9.4" font-weight="bold" fill="#000" text-anchor="start" >B = 200 G</text>
<text x="418.7" y="383.8" font-size="9.4" font-weight="bold" fill="#000" text-anchor="start" >Rabi</text>
<path d="M497.6,253.5 L683.8,253.5 L683.8,391.1 L497.6,391.1" fill="none" stroke="#262626" stroke-width="1.1"/>
<line x1="497.6" y1="253.0" x2="497.6" y2="391.6" stroke="#7a7a7a" stroke-width="1.2"/>
<line x1="497.60" y1="391.1" x2="497.60" y2="388.5" stroke="#555" stroke-width="1"/>
<line x1="497.60" y1="253.5" x2="497.60" y2="254.7" stroke="#555" stroke-width="0.8"/>
<text x="497.60" y="398.3" font-size="6.8" font-weight="bold" fill="#000" text-anchor="middle" stroke="#000" stroke-width="0.22" >0</text>
<line x1="520.60" y1="391.1" x2="520.60" y2="389.3" stroke="#555" stroke-width="1"/>
<line x1="520.60" y1="253.5" x2="520.60" y2="254.7" stroke="#555" stroke-width="0.8"/>
<line x1="543.60" y1="391.1" x2="543.60" y2="388.5" stroke="#555" stroke-width="1"/>
<line x1="543.60" y1="253.5" x2="543.60" y2="254.7" stroke="#555" stroke-width="0.8"/>
<text x="543.60" y="398.3" font-size="6.8" font-weight="bold" fill="#000" text-anchor="middle" stroke="#000" stroke-width="0.22" >2</text>
<line x1="566.60" y1="391.1" x2="566.60" y2="389.3" stroke="#555" stroke-width="1"/>
<line x1="566.60" y1="253.5" x2="566.60" y2="254.7" stroke="#555" stroke-width="0.8"/>
<line x1="589.60" y1="391.1" x2="589.60" y2="388.5" stroke="#555" stroke-width="1"/>
<line x1="589.60" y1="253.5" x2="589.60" y2="254.7" stroke="#555" stroke-width="0.8"/>
<text x="589.60" y="398.3" font-size="6.8" font-weight="bold" fill="#000" text-anchor="middle" stroke="#000" stroke-width="0.22" >4</text>
<line x1="612.60" y1="391.1" x2="612.60" y2="389.3" stroke="#555" stroke-width="1"/>
<line x1="612.60" y1="253.5" x2="612.60" y2="254.7" stroke="#555" stroke-width="0.8"/>
<line x1="635.60" y1="391.1" x2="635.60" y2="388.5" stroke="#555" stroke-width="1"/>
<line x1="635.60" y1="253.5" x2="635.60" y2="254.7" stroke="#555" stroke-width="0.8"/>
<text x="635.60" y="398.3" font-size="6.8" font-weight="bold" fill="#000" text-anchor="middle" stroke="#000" stroke-width="0.22" >6</text>
<line x1="658.60" y1="391.1" x2="658.60" y2="389.3" stroke="#555" stroke-width="1"/>
<line x1="658.60" y1="253.5" x2="658.60" y2="254.7" stroke="#555" stroke-width="0.8"/>
<line x1="681.60" y1="391.1" x2="681.60" y2="388.5" stroke="#555" stroke-width="1"/>
<line x1="681.60" y1="253.5" x2="681.60" y2="254.7" stroke="#555" stroke-width="0.8"/>
<text x="681.60" y="398.3" font-size="6.8" font-weight="bold" fill="#000" text-anchor="middle" stroke="#000" stroke-width="0.22" >8</text>
<line x1="497.6" y1="266.00" x2="500.40000000000003" y2="266.00" stroke="#333" stroke-width="1"/>
<text x="494.3" y="268.40" font-size="6.8" font-weight="bold" fill="#000" text-anchor="end" stroke="#000" stroke-width="0.22" >0.00</text>
<line x1="497.6" y1="299.10" x2="499.20000000000005" y2="299.10" stroke="#333" stroke-width="1"/>
<line x1="497.6" y1="332.20" x2="500.40000000000003" y2="332.20" stroke="#333" stroke-width="1"/>
<text x="494.3" y="334.60" font-size="6.8" font-weight="bold" fill="#000" text-anchor="end" stroke="#000" stroke-width="0.22" >-0.05</text>
<line x1="497.6" y1="365.30" x2="499.20000000000005" y2="365.30" stroke="#333" stroke-width="1"/>
<text x="590.3" y="409.8" font-size="9.5" font-weight="bold" fill="#000" text-anchor="middle" >Evolution time (µs)</text>
<text x="0" y="0" font-size="9.5" font-weight="bold" fill="#000" text-anchor="middle" transform="translate(476,323.2) rotate(-90)">ΔPL/PL</text>
<rect x="501.9" y="257.8" width="1.9" height="1.9" fill="#111"/>
<rect x="499.6" y="276.4" width="1.9" height="1.9" fill="#111"/>
<rect x="503.6" y="287.2" width="1.9" height="1.9" fill="#111"/>
<rect x="496.9" y="303.1" width="1.9" height="1.9" fill="#111"/>
<rect x="527.3" y="315.2" width="1.9" height="1.9" fill="#111"/>
<rect x="534.1" y="266.8" width="1.9" height="1.9" fill="#111"/>
<rect x="532.4" y="279.2" width="1.9" height="1.9" fill="#111"/>
<rect x="530.1" y="287.2" width="1.9" height="1.9" fill="#111"/>
<rect x="536.3" y="287.8" width="1.9" height="1.9" fill="#111"/>
<rect x="538.6" y="299.7" width="1.9" height="1.9" fill="#111"/>
<rect x="541.4" y="322.4" width="1.9" height="1.9" fill="#111"/>
<rect x="506.4" y="325.9" width="1.9" height="1.9" fill="#111"/>
<rect x="508.9" y="346.6" width="1.9" height="1.9" fill="#111"/>
<rect x="513.4" y="346.9" width="1.9" height="1.9" fill="#111"/>
<rect x="510.6" y="339.8" width="1.9" height="1.9" fill="#111"/>
<rect x="520.2" y="344.9" width="1.9" height="1.9" fill="#111"/>
<rect x="522.8" y="344.1" width="1.9" height="1.9" fill="#111"/>
<rect x="525.0" y="346.9" width="1.9" height="1.9" fill="#111"/>
<rect x="518.2" y="382.2" width="1.9" height="1.9" fill="#111"/>
<rect x="546.0" y="351.4" width="1.9" height="1.9" fill="#111"/>
<rect x="543.8" y="357.1" width="1.9" height="1.9" fill="#111"/>
<rect x="550.5" y="363.9" width="1.9" height="1.9" fill="#111"/>
<rect x="548.2" y="349.9" width="1.9" height="1.9" fill="#111"/>
<rect x="566.6" y="260.1" width="1.9" height="1.9" fill="#111"/>
<rect x="564.6" y="292.2" width="1.9" height="1.9" fill="#111"/>
<rect x="571.1" y="297.9" width="1.9" height="1.9" fill="#111"/>
<rect x="574.0" y="298.6" width="1.9" height="1.9" fill="#111"/>
<rect x="562.0" y="312.2" width="1.9" height="1.9" fill="#111"/>
<rect x="559.8" y="322.9" width="1.9" height="1.9" fill="#111"/>
<rect x="576.2" y="316.1" width="1.9" height="1.9" fill="#111"/>
<rect x="603.8" y="276.9" width="1.9" height="1.9" fill="#111"/>
<rect x="605.9" y="280.9" width="1.9" height="1.9" fill="#111"/>
<rect x="599.4" y="289.2" width="1.9" height="1.9" fill="#111"/>
<rect x="601.5" y="294.9" width="1.9" height="1.9" fill="#111"/>
<rect x="596.6" y="295.2" width="1.9" height="1.9" fill="#111"/>
<rect x="594.9" y="316.9" width="1.9" height="1.9" fill="#111"/>
<rect x="608.8" y="303.7" width="1.9" height="1.9" fill="#111"/>
<rect x="553.5" y="358.2" width="1.9" height="1.9" fill="#111"/>
<rect x="555.2" y="358.2" width="1.9" height="1.9" fill="#111"/>
<rect x="580.8" y="351.7" width="1.9" height="1.9" fill="#111"/>
<rect x="585.0" y="359.2" width="1.9" height="1.9" fill="#111"/>
<rect x="590.1" y="359.9" width="1.9" height="1.9" fill="#111"/>
<rect x="635.9" y="267.9" width="1.9" height="1.9" fill="#111"/>
<rect x="629.1" y="282.9" width="1.9" height="1.9" fill="#111"/>
<rect x="634.0" y="284.2" width="1.9" height="1.9" fill="#111"/>
<rect x="638.4" y="282.4" width="1.9" height="1.9" fill="#111"/>
<rect x="640.8" y="288.1" width="1.9" height="1.9" fill="#111"/>
<rect x="626.9" y="304.6" width="1.9" height="1.9" fill="#111"/>
<rect x="645.2" y="309.9" width="1.9" height="1.9" fill="#111"/>
<rect x="622.3" y="319.2" width="1.9" height="1.9" fill="#111"/>
<rect x="624.6" y="320.8" width="1.9" height="1.9" fill="#111"/>
<rect x="642.5" y="314.9" width="1.9" height="1.9" fill="#111"/>
<rect x="668.5" y="277.9" width="1.9" height="1.9" fill="#111"/>
<rect x="670.8" y="283.4" width="1.9" height="1.9" fill="#111"/>
<rect x="673.1" y="286.1" width="1.9" height="1.9" fill="#111"/>
<rect x="657.0" y="299.7" width="1.9" height="1.9" fill="#111"/>
<rect x="661.8" y="299.2" width="1.9" height="1.9" fill="#111"/>
<rect x="666.3" y="300.4" width="1.9" height="1.9" fill="#111"/>
<rect x="664.3" y="305.9" width="1.9" height="1.9" fill="#111"/>
<rect x="675.8" y="300.9" width="1.9" height="1.9" fill="#111"/>
<rect x="677.9" y="311.6" width="1.9" height="1.9" fill="#111"/>
<rect x="658.8" y="320.8" width="1.9" height="1.9" fill="#111"/>
<rect x="682.0" y="318.4" width="1.9" height="1.9" fill="#111"/>
<rect x="610.4" y="304.2" width="1.9" height="1.9" fill="#111"/>
<rect x="620.1" y="343.2" width="1.9" height="1.9" fill="#111"/>
<rect x="615.8" y="341.2" width="1.9" height="1.9" fill="#111"/>
<rect x="617.5" y="356.4" width="1.9" height="1.9" fill="#111"/>
<rect x="649.8" y="327.1" width="1.9" height="1.9" fill="#111"/>
<rect x="652.4" y="327.6" width="1.9" height="1.9" fill="#111"/>
<rect x="654.6" y="335.1" width="1.9" height="1.9" fill="#111"/>
<rect x="648.5" y="333.9" width="1.9" height="1.9" fill="#111"/>
<rect x="680.1" y="336.9" width="1.9" height="1.9" fill="#111"/>
<path d="M497.60,276.76 L498.07,274.90 L498.53,273.36 L499.00,272.15 L499.47,271.29 L499.93,270.77 L500.40,270.59 L500.87,270.77 L501.33,271.29 L501.80,272.15 L502.27,273.34 L502.73,274.86 L503.20,276.69 L503.67,278.81 L504.13,281.22 L504.60,283.88 L505.07,286.78 L505.53,289.91 L506.00,293.22 L506.47,296.71 L506.93,300.33 L507.40,304.07 L507.87,307.90 L508.33,311.78 L508.80,315.69 L509.27,319.60 L509.73,323.48 L510.20,327.30 L510.67,331.03 L511.13,334.65 L511.60,338.12 L512.07,341.43 L512.53,344.55 L513.00,347.45 L513.47,350.12 L513.93,352.53 L514.40,354.67 L514.87,356.53 L515.33,358.09 L515.80,359.33 L516.27,360.26 L516.73,360.86 L517.20,361.14 L517.67,361.09 L518.13,360.71 L518.60,360.01 L519.07,358.99 L519.53,357.66 L520.00,356.04 L520.47,354.13 L520.93,351.95 L521.40,349.52 L521.87,346.85 L522.33,343.97 L522.80,340.91 L523.27,337.67 L523.73,334.30 L524.20,330.80 L524.67,327.22 L525.13,323.57 L525.60,319.89 L526.07,316.20 L526.53,312.53 L527.00,308.90 L527.47,305.35 L527.93,301.90 L528.40,298.57 L528.87,295.40 L529.33,292.39 L529.80,289.58 L530.27,286.99 L530.73,284.63 L531.20,282.52 L531.67,280.67 L532.13,279.11 L532.60,277.83 L533.07,276.85 L533.53,276.18 L534.00,275.81 L534.47,275.75 L534.93,276.00 L535.40,276.56 L535.87,277.42 L536.33,278.58 L536.80,280.01 L537.27,281.72 L537.73,283.69 L538.20,285.91 L538.67,288.35 L539.13,290.99 L539.60,293.83 L540.07,296.83 L540.53,299.97 L541.00,303.23 L541.47,306.58 L541.93,310.01 L542.40,313.47 L542.87,316.95 L543.33,320.42 L543.80,323.86 L544.27,327.24 L544.73,330.53 L545.20,333.71 L545.67,336.75 L546.13,339.65 L546.60,342.36 L547.07,344.88 L547.53,347.18 L548.00,349.26 L548.47,351.08 L548.93,352.65 L549.40,353.95 L549.87,354.97 L550.33,355.71 L550.80,356.15 L551.27,356.31 L551.73,356.17 L552.20,355.74 L552.67,355.03 L553.13,354.03 L553.60,352.77 L554.07,351.24 L554.53,349.47 L555.00,347.45 L555.47,345.23 L555.93,342.79 L556.40,340.18 L556.87,337.40 L557.33,334.48 L557.80,331.44 L558.27,328.31 L558.73,325.10 L559.20,321.84 L559.67,318.56 L560.13,315.28 L560.60,312.02 L561.07,308.82 L561.53,305.68 L562.00,302.65 L562.47,299.73 L562.93,296.95 L563.40,294.33 L563.87,291.89 L564.33,289.64 L564.80,287.61 L565.27,285.81 L565.73,284.24 L566.20,282.93 L566.67,281.87 L567.13,281.09 L567.60,280.57 L568.07,280.33 L568.53,280.37 L569.00,280.68 L569.47,281.26 L569.93,282.11 L570.40,283.21 L570.87,284.57 L571.33,286.17 L571.80,287.99 L572.27,290.02 L572.73,292.25 L573.20,294.66 L573.67,297.23 L574.13,299.94 L574.60,302.77 L575.07,305.70 L575.53,308.71 L576.00,311.77 L576.47,314.85 L576.93,317.95 L577.40,321.03 L577.87,324.08 L578.33,327.06 L578.80,329.96 L579.27,332.75 L579.73,335.42 L580.20,337.95 L580.67,340.31 L581.13,342.49 L581.60,344.48 L582.07,346.25 L582.53,347.81 L583.00,349.13 L583.47,350.21 L583.93,351.04 L584.40,351.61 L584.87,351.92 L585.33,351.98 L585.80,351.78 L586.27,351.31 L586.73,350.60 L587.20,349.64 L587.67,348.44 L588.13,347.01 L588.60,345.36 L589.07,343.51 L589.53,341.47 L590.00,339.25 L590.47,336.88 L590.93,334.37 L591.40,331.73 L591.87,329.00 L592.33,326.19 L592.80,323.32 L593.27,320.41 L593.73,317.49 L594.20,314.58 L594.67,311.69 L595.13,308.86 L595.60,306.10 L596.07,303.42 L596.53,300.86 L597.00,298.43 L597.47,296.15 L597.93,294.03 L598.40,292.09 L598.87,290.35 L599.33,288.81 L599.80,287.49 L600.27,286.39 L600.73,285.53 L601.20,284.90 L601.67,284.52 L602.13,284.39 L602.60,284.49 L603.07,284.85 L603.53,285.44 L604.00,286.27 L604.47,287.32 L604.93,288.60 L605.40,290.08 L605.87,291.76 L606.33,293.63 L606.80,295.66 L607.27,297.85 L607.73,300.18 L608.20,302.63 L608.67,305.18 L609.13,307.80 L609.60,310.50 L610.07,313.23 L610.53,315.98 L611.00,318.73 L611.47,321.47 L611.93,324.16 L612.40,326.79 L612.87,329.34 L613.33,331.79 L613.80,334.13 L614.27,336.33 L614.73,338.38 L615.20,340.27 L615.67,341.98 L616.13,343.50 L616.60,344.82 L617.07,345.93 L617.53,346.82 L618.00,347.49 L618.47,347.92 L618.93,348.13 L619.40,348.11 L619.87,347.86 L620.33,347.37 L620.80,346.67 L621.27,345.75 L621.73,344.61 L622.20,343.28 L622.67,341.76 L623.13,340.05 L623.60,338.19 L624.07,336.17 L624.53,334.02 L625.00,331.75 L625.47,329.37 L625.93,326.92 L626.40,324.40 L626.87,321.83 L627.33,319.24 L627.80,316.64 L628.27,314.06 L628.73,311.50 L629.20,309.00 L629.67,306.56 L630.13,304.22 L630.60,301.97 L631.07,299.85 L631.53,297.87 L632.00,296.03 L632.47,294.36 L632.93,292.86 L633.40,291.55 L633.87,290.44 L634.33,289.53 L634.80,288.83 L635.27,288.34 L635.73,288.07 L636.20,288.01 L636.67,288.18 L637.13,288.56 L637.60,289.15 L638.07,289.95 L638.53,290.96 L639.00,292.15 L639.47,293.53 L639.93,295.08 L640.40,296.78 L640.87,298.64 L641.33,300.63 L641.80,302.73 L642.27,304.94 L642.73,307.23 L643.20,309.59 L643.67,312.00 L644.13,314.43 L644.60,316.88 L645.07,319.33 L645.53,321.75 L646.00,324.13 L646.47,326.45 L646.93,328.70 L647.40,330.85 L647.87,332.89 L648.33,334.81 L648.80,336.59 L649.27,338.22 L649.73,339.69 L650.20,340.99 L650.67,342.10 L651.13,343.03 L651.60,343.76 L652.07,344.29 L652.53,344.61 L653.00,344.73 L653.47,344.65 L653.93,344.36 L654.40,343.87 L654.87,343.18 L655.33,342.30 L655.80,341.23 L656.27,339.99 L656.73,338.59 L657.20,337.02 L657.67,335.32 L658.13,333.49 L658.60,331.54 L659.07,329.49 L659.53,327.35 L660.00,325.15 L660.47,322.89 L660.93,320.60 L661.40,318.29 L661.87,315.98 L662.33,313.69 L662.80,311.43 L663.27,309.22 L663.73,307.07 L664.20,305.01 L664.67,303.05 L665.13,301.20 L665.60,299.47 L666.07,297.88 L666.53,296.44 L667.00,295.16 L667.47,294.05 L667.93,293.12 L668.40,292.37 L668.87,291.80 L669.33,291.43 L669.80,291.25 L670.27,291.26 L670.73,291.47 L671.20,291.87 L671.67,292.45 L672.13,293.22 L672.60,294.17 L673.07,295.28 L673.53,296.56 L674.00,297.98 L674.47,299.54 L674.93,301.23 L675.40,303.04 L675.87,304.94 L676.33,306.93 L676.80,308.98 L677.27,311.10 L677.73,313.25 L678.20,315.42 L678.67,317.60 L679.13,319.78 L679.60,321.92 L680.07,324.02 L680.53,326.07 L681.00,328.04 L681.47,329.92 L681.93,331.71 L682.40,333.38 L682.87,334.92 L683.33,336.33 L683.80,337.59" fill="none" stroke="#f5895c" stroke-width="2.0" stroke-linejoin="round" stroke-linecap="round" />
<text x="506" y="378.6" font-size="9.4" font-weight="bold" fill="#000" text-anchor="start" >B = 200 G</text>
<text x="570.6" y="378.4" font-size="9.5" font-weight="bold" fill="#000" text-anchor="start" >T</text>
<text x="578.2" y="379.8" font-size="6.6" font-weight="normal" fill="#222" text-anchor="start" >2</text>
<text x="581.6" y="375.6" font-size="6.3" font-weight="bold" fill="#111" text-anchor="start" stroke="#111" stroke-width="0.22" >*</text>
<text x="586.3" y="378.4" font-size="9.5" font-weight="bold" fill="#000" text-anchor="start" >= 13 ± 4 µs</text>
<text x="643.2" y="378.2" font-size="9.4" font-weight="bold" fill="#000" text-anchor="start" >Ramsey</text>
</svg></body></html>
